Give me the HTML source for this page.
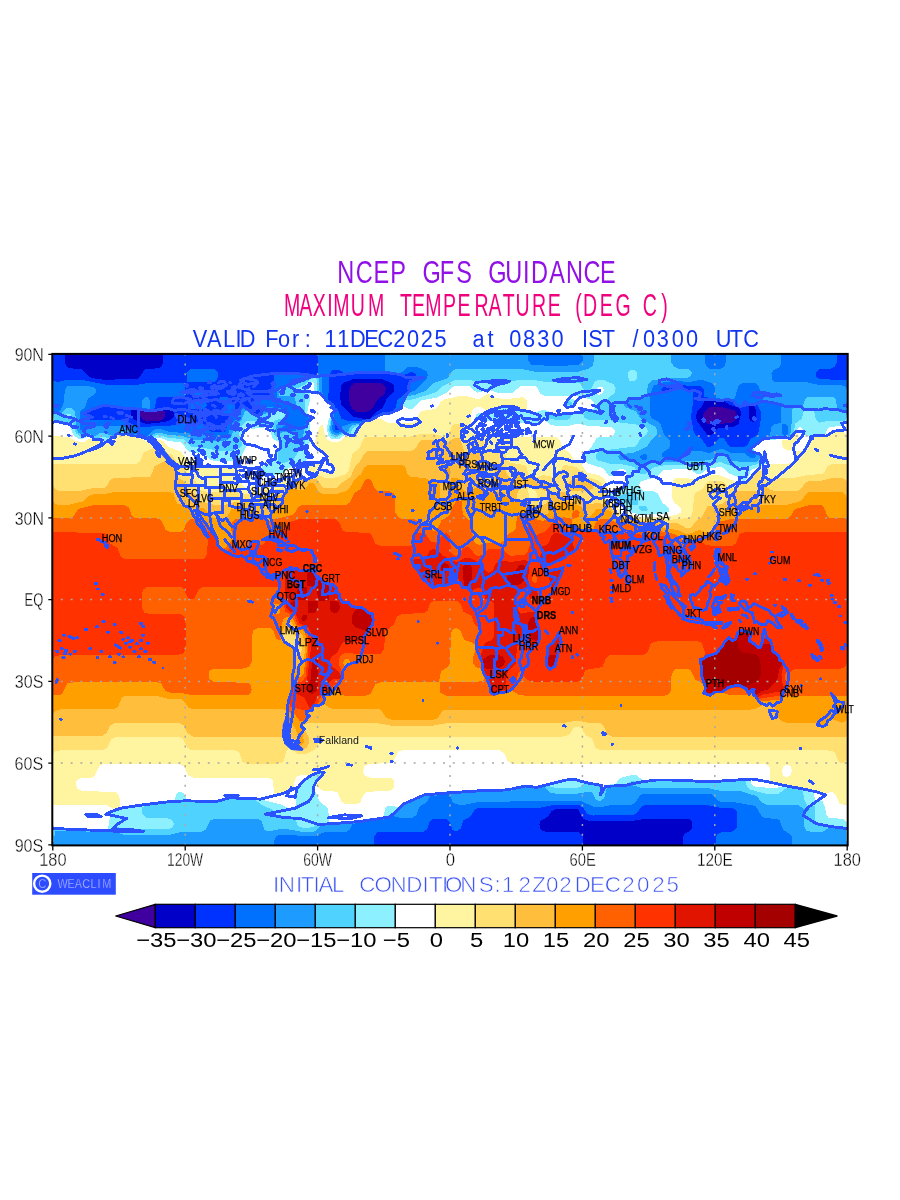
<!DOCTYPE html>
<html><head><meta charset="utf-8"><title>NCEP GFS Guidance - Maximum Temperature</title><style>html,body{margin:0;padding:0;background:#fff;}svg{display:block;}</style></head><body>
<svg width="900" height="1200" viewBox="0 0 900 1200">
<rect width="900" height="1200" fill="#fff"/>
<text transform="scale(0.7700,1)" x="438.13 462.10 485.00 506.71 527.07 548.70 571.21 592.49 612.85 634.09 656.19 679.20 689.76 713.33 735.14 757.75 779.29" y="283.30" font-size="30.52" fill="#9010e6" font-family="'Liberation Sans',sans-serif" style="white-space:pre">NCEP GFS GUIDANCE</text>
<text transform="scale(0.6400,1)" x="443.93 467.63 488.70 511.46 520.88 547.96 575.10 600.53 624.90 643.76 664.63 692.26 715.01 741.56 763.26 785.37 805.62 831.32 855.86 876.22 898.83 910.88 937.11 961.78 985.53 1004.41 1033.35" y="316.00" font-size="30.52" fill="#f0007e" font-family="'Liberation Sans',sans-serif" style="white-space:pre">MAXIMUM TEMPERATURE (DEG C)</text>
<text transform="scale(0.8800,1)" x="219.09 235.28 253.38 267.65 272.53 290.38 301.42 315.80 331.75 346.23 353.09 368.87 383.25 397.87 414.00 428.99 446.88 462.45 478.02 493.66 507.41 536.87 553.97 560.84 578.81 594.38 610.64 626.77 640.51 661.28 668.58 683.77 698.86 718.84 730.57 746.38 763.30 779.66 793.41 813.35 829.22 844.67" y="347.00" font-size="24.71" fill="#1034f0" font-family="'Liberation Sans',sans-serif" style="white-space:pre">VALID For: 11DEC2025 at 0830 IST /0300 UTC</text>
<clipPath id="mc"><rect x="52.8" y="354.4" width="794.4000000000001" height="490.5"/></clipPath>
<g clip-path="url(#mc)">
<rect x="50.8" y="352.4" width="798.4000000000001" height="494.5" fill="#4000a0"/>
<path fill="#0000c8" fill-rule="evenodd" shape-rendering="crispEdges" d="M53 351.5 850 351.5 850 848 50 848 50 351.5ZM355 383 351 385.5 349.5 390 349 400.5 350.5 406 353 409.5 356 411.5 365 412 369.5 411 373.5 407.5 377 400 384.5 394 385.5 390 385.5 387 383 384.5 379.5 383ZM709 407.5 705 411 703 415.5 704.5 421 708 424.5 731.5 423 736 420 737 414.5 734.5 410.5 720.5 407ZM156.5 410.5 147.5 411.5 144.5 410.5 140 411.5 140.5 417 143.5 420 147.5 421.5 160 420.5 163.5 418.5 165 415.5 165.5 410.5Z"/>
<path fill="#0032ff" fill-rule="evenodd" shape-rendering="crispEdges" d="M53 351.5 64.5 351.5 65 363.5 68 368 82.5 369.5 88 376 91.5 378 102.5 379.5 114.5 379.5 136.5 379 139.5 377.5 143.5 371 145.5 369.5 160 368 163 363.5 163.5 351.5 850 351.5 850 848 682.5 848 683.5 835.5 685 833.5 690.5 830.5 692.5 827 692 821.5 689 819 647.5 818.5 632 821 589 821 583.5 819 578 809.5 566 809 556 809 551.5 811 548 816.5 540.5 821 539.5 824.5 540 828.5 541.5 830.5 545 831.5 579 832.5 582.5 836.5 583 848 50 848 50 351.5ZM353.5 379 343 383 341 385.5 340 398 341.5 405 353 416.5 361.5 418.5 370 418.5 377 411.5 383 407.5 386.5 399.5 393.5 392 394.5 388.5 394 385.5 391.5 383 380.5 378.5ZM704.5 400.5 702 406 697 411.5 696 417 697 421 708 435.5 712 435 718.5 428 733.5 427 738.5 424 740.5 415.5 740.5 410.5 738.5 407.5 730 405 724.5 401.5 713.5 401 710.5 399.5ZM749 406 749 418.5 750.5 421 753.5 422 756.5 418.5 756 410.5 754 406ZM157.5 409 154.5 410.5 149 411 144.5 409.5 133.5 409.5 131 410.5 131 414.5 132 417 134.5 420 146.5 424 164 422 171 420 173.5 417 174 411.5 170 408.5 165.5 407.5Z"/>
<path fill="#0070ff" fill-rule="evenodd" shape-rendering="crispEdges" d="M318.5 351.5 836.5 351.5 836.5 362.5 834.5 366.5 830.5 368.5 818.5 369.5 816.5 371.5 815.5 375 817 377.5 820.5 379 850 380.5 850 848 715.5 848 715.5 838 717.5 834 721.5 832 732.5 831.5 736.5 828.5 737.5 823 737 812 735.5 809.5 731.5 808 719 807.5 707 805 646.5 805 642 806 636.5 813.5 633 815 593.5 815.5 587 814 583.5 808 580 805.5 566 804.5 553.5 805 541.5 807.5 477.5 808 474.5 810 470 817 463.5 820.5 460.5 828.5 457.5 831 455.5 831.5 452.5 830 449.5 821.5 446.5 819 433.5 818.5 430 821 427 829.5 423.5 831.5 377 832.5 374 836.5 373.5 848 50 848 50 380.5 58.5 382 68 379.5 79.5 379.5 107 385 136.5 385 150 382.5 185 382.5 185 397 158.5 396.5 156 399.5 155 407.5 153 409.5 147.5 410.5 134.5 407.5 121 408 109 405.5 103.5 405.5 88 411.5 85.5 413 86 414.5 89 415 91.5 417 88 420 89 420 124.5 420.5 135.5 425.5 144.5 427.5 157.5 425.5 171 425.5 182 423.5 202 423.5 206 425 209.5 430.5 211.5 432 221.5 432.5 224 432 226 430 229.5 417 228 415.5 222.5 414 216 413 222.5 410.5 225.5 407.5 225 403.5 219.5 400.5 218.5 398 224 396.5 228 397 227.5 402 234 403.5 236.5 413 238 412.5 241 406 242.5 405.5 246 407 251.5 412 258 414.5 262.5 409 256 408 252.5 403.5 259 400 260 396.5 269 395.5 272.5 393.5 274 388.5 274.5 374.5 279 373 293.5 372.5 313 375.5 317 375 318 372ZM333.5 369.5 331 371.5 329.5 375 329 390 327.5 398 329 400.5 334 403.5 335 407.5 337.5 409 341.5 418.5 346.5 420.5 360.5 421 364 419.5 369.5 419.5 381.5 412.5 388 412 392.5 410.5 395.5 407.5 397.5 399.5 403.5 395.5 407.5 391 409 384.5 414.5 380.5 416.5 376 415 373.5 411.5 372 402.5 375.5 392.5 374.5 378.5 371.5 364 371.5 360.5 372.5 353 372.5 348.5 374 345 373.5 338.5 369.5ZM672.5 384.5 663 387.5 661 390 662 391 666.5 392 673 390.5 679.5 388 691.5 391 693 392.5 693 402 691 417 693.5 430.5 695.5 435 701.5 439 707 446.5 709.5 447 712.5 446 718 439 721.5 437.5 724.5 439 728 445 731 447 744.5 447 747 445.5 751 438.5 758 435 761.5 415.5 760.5 410.5 757.5 405 750 403.5 740 405.5 736.5 405 733.5 402 728 400 713.5 399.5 704.5 396.5 704 390 700.5 386 688.5 386 678.5 384ZM335 424 335.5 429.5 338.5 430 339.5 429.5 338.5 426.5 336.5 424ZM190.5 369 214 369 217.5 372 218 377.5 216 381 213 382 186.5 382.5 186.5 373.5 188 371ZM193 392 204 392 206.5 392.5 207 394 205 395.5 195 396 192.5 394ZM186.5 399 189.5 399 190 400.5 192 401.5 196 400 202 400 206 402 207 405 205.5 407.5 203 409 190.5 409 188 407.5 188.5 403.5 186.5 401.5Z"/>
<path fill="#1e9bff" fill-rule="evenodd" shape-rendering="crispEdges" d="M385 351.5 528 351.5 528.5 361 531.5 365 556 366 579 365 582.5 361 583 351.5 704.5 351.5 704.5 361 706 366 709.5 368.5 715 368.5 721.5 368.5 724.5 366 726 361 726.5 351.5 781.5 351.5 780.5 365.5 779 367.5 773.5 370 771.5 373.5 771.5 379 774.5 381.5 807.5 382.5 819.5 385 841.5 385.5 845 386.5 847 389.5 850 389.5 850 848 792.5 848 791.5 835.5 783 829.5 779.5 820.5 776.5 819 765.5 818 762 817 755.5 806 733.5 802 720.5 801.5 717 800 711.5 794.5 698 794 643 794 640 795.5 635.5 802.5 632 804.5 611 805 600 807.5 593.5 806.5 581.5 801.5 576 800.5 478.5 802 466.5 804.5 457.5 804.5 452.5 802.5 450 794.5 446.5 794 443.5 795 430 796 426.5 802.5 419 807 416.5 815 412.5 818 400.5 818 393.5 816 384 819.5 358.5 822.5 352 824.5 349.5 829.5 346.5 831.5 325.5 832 314.5 836 279 835 276 836.5 274.5 839.5 274 848 50 848 50 411 58.5 412 60 410.5 63.5 403.5 65 390 67 386.5 71.5 385.5 82.5 385.5 93.5 387 95.5 388.5 96.5 391 94.5 394.5 88 398.5 85 407.5 80.5 411 79.5 413 79.5 426.5 80.5 429.5 82.5 430.5 87 428 93.5 426 122.5 426 128 427.5 131.5 433.5 138 434 146.5 437 153 430 158.5 428.5 170 432 202 434 213 436.5 224 436.5 228 434.5 231.5 424 237 418.5 242.5 408.5 245 408 251.5 413.5 258 416.5 266.5 407.5 269 407 281 408.5 286.5 412.5 288 414.5 287.5 417 283 422.5 285 424 285.5 425 281 428 292 431.5 296 430.5 296.5 429 304.5 426.5 307 421 310 418.5 304.5 416 300.5 410.5 297 407.5 277 400 277 390 283.5 386 291 384.5 297.5 379 307.5 376.5 320 375.5 322 377.5 322 391.5 323 395 328.5 401.5 333 404 333 407.5 337 410.5 333.5 414.5 333.5 420 332 428 333 432 337.5 433.5 342 430.5 342 426.5 353 423 360.5 422.5 364 420 370 420 381.5 413.5 388.5 413 399 408 406 395 409 392.5 416 390 426.5 379 428 375 426.5 371 416 366.5 408 367 401.5 372.5 398 373.5 393.5 373.5 385 371ZM696.5 380.5 689.5 382 676 381 663 382.5 654 385.5 652 388.5 651 394 649.5 396.5 650 415.5 652 418.5 658.5 421.5 660.5 424 664 435 669 439 670.5 443 669 448.5 662.5 452.5 662 456.5 666.5 459 676 459 680 458 684 452.5 687 451 698 450.5 709.5 453 721.5 448.5 731.5 453 744.5 453.5 751 458 755 458 756.5 455 752.5 453.5 751.5 447 763.5 437 770 436 771 428 773.5 424.5 781.5 422.5 781 406 779 404.5 769 402.5 763.5 400 762.5 398 763.5 397 768.5 394 760 390.5 758 385 754.5 382.5 744.5 382.5 740 384 738 387 735 398 732.5 399.5 728 398.5 724.5 399 716 398 715 387.5 712.5 383.5 702.5 380ZM781.5 424 781.5 433.5 785 436 787 436 788 432 787.5 426 785.5 424ZM641 455 640 458 642 460 645.5 460 647.5 458 647 455 645.5 454ZM144.5 397.5 147.5 397 149.5 399.5 149.5 409 142.5 407.5 141.5 406 142.5 400.5Z"/>
<path fill="#50d2ff" fill-rule="evenodd" shape-rendering="crispEdges" d="M594.5 351.5 671 351.5 671.5 362.5 673.5 366.5 677.5 368.5 688.5 369 692 372 691 376 688.5 377.5 673 377.5 652 380.5 648 384.5 646.5 394 642 398 630 398.5 626.5 403 624.5 403.5 623.5 405 626.5 407.5 636 411.5 641 419 655 426.5 657 429.5 656.5 435 652 439 646.5 447 633 453 621 454 618 456.5 620 459.5 633 461.5 642 466 645.5 466 655 461.5 675 462.5 688.5 460.5 699.5 461 709.5 460 712.5 459 720.5 454 723.5 455 731.5 461 751 462.5 756.5 461.5 759.5 459.5 760 456.5 758 454 753 452.5 752 448.5 753.5 446 763.5 438 775.5 437 779 436 786.5 437.5 789.5 436 791 432 792.5 409 796.5 406.5 803 406 805 399.5 808.5 396.5 833 397 835.5 399.5 837.5 408 844 411.5 847 415.5 850 415.5 850 842 847 842 846 841 846 830 845 829 833 827.5 828 828.5 823 831.5 818.5 832 809.5 831.5 806.5 830.5 804 826 804.5 809.5 798.5 805.5 765.5 804.5 762 802.5 756.5 796 741.5 791.5 721.5 791 709.5 788.5 642 788 630 784.5 625.5 786 607 787.5 604 798.5 600 801 596 800 592.5 793 590 791.5 578 793.5 555 793.5 550.5 792.5 545 787.5 542.5 787 539.5 788 530.5 788 526 787 509.5 791 494 791 491 792 466.5 792.5 462 793.5 446.5 793 443.5 794 430 794.5 423.5 796 406 804 398 811.5 389.5 817 385 818.5 368.5 820 365 821.5 358.5 821.5 355 823 342 823.5 338.5 825 323 824.5 320 826 316.5 830.5 312 832 300 831.5 286.5 829 278 829.5 268 831.5 264.5 829.5 261.5 821 258 818.5 216 818.5 210 820.5 206 829.5 202 831.5 181 832 168.5 835 129 835 123.5 834.5 113.5 831.5 88 832 82.5 830.5 55 830.5 54 841 53 842 50 842 50 415.5 53 415.5 55 413 60.5 414 67 408 71.5 407.5 75 411.5 77 429.5 78 432.5 81.5 434 90.5 434.5 94.5 436.5 99 433.5 103.5 433 113.5 436.5 115.5 433 120 431.5 128 433 131 434.5 138 435 147.5 438.5 154.5 433.5 158.5 432.5 168.5 435 183 436 193 439.5 221.5 441 227 440 231 437.5 234 428 241.5 420 245 411 248 411.5 251.5 415 259 418.5 258.5 421 260 422 264 420 259.5 417 263.5 414 268 413 270 409.5 280 409.5 285.5 413 286.5 415.5 285.5 418.5 276.5 425 275.5 429.5 277 433.5 279 434 283.5 431.5 294.5 433.5 295.5 435 295.5 439.5 300 439.5 303 437.5 304 429.5 306.5 426 308 421 311.5 418.5 311 417.5 304.5 414.5 301 408.5 296.5 405 294.5 397.5 291 396 279 396 278.5 391 279 390 284.5 387 289 386.5 292 387.5 296.5 384 304.5 381.5 310 377.5 315.5 377 318.5 377.5 319 379 319.5 391 328 402 333 405 332.5 407.5 336 410.5 332.5 414.5 330 429.5 332 434 336.5 435.5 344 432 348 432 349.5 428 353 425 359.5 424 364 420.5 370.5 420 381.5 414 389.5 413.5 399 409 407 396 414.5 395 425 391 433.5 383 448 378 452 371 454.5 369.5 518.5 368.5 534 371.5 579 371.5 589 368.5 592.5 366 593.5 362.5Z"/>
<path fill="#8cf0ff" fill-rule="evenodd" shape-rendering="crispEdges" d="M632 369.5 636 371 637.5 375 636.5 379.5 633 381.5 629.5 380.5 627.5 376 628.5 371.5ZM311 379 314.5 378 317 379 317 391 327.5 402 331.5 405 331.5 407.5 334.5 410.5 332.5 413 328.5 429.5 331 435.5 335.5 437.5 339.5 436 344 433 350.5 433.5 353 428 359.5 425 364 421 370.5 420.5 382.5 414.5 389.5 414 399 409.5 406 400 412.5 399.5 435.5 392.5 442.5 386 455.5 380 467.5 379.5 475.5 381.5 486.5 382 494 380 506.5 382.5 520.5 379.5 531.5 379.5 546 382 576 382.5 580 383.5 584.5 391 588 392.5 590.5 391 593 384.5 595.5 381 600 379.5 604.5 380.5 614 384.5 615.5 388.5 615 392.5 606.5 399.5 603.5 400.5 599.5 403.5 598.5 406 600.5 410.5 600 412.5 585.5 411 583.5 414.5 584.5 418 589 420 611 420.5 622 423 634.5 424 645.5 427 647.5 429.5 647.5 432 646 435 640 439 637 444.5 634.5 446.5 600 451 596 454 595.5 458 598.5 460.5 609 463.5 623 464.5 630 466 634.5 467.5 640 473.5 643 474.5 647.5 473 653.5 467.5 663 465.5 688.5 464.5 699.5 466.5 720.5 462 733.5 467 742.5 467 755.5 465 761 462 761.5 458 759 453.5 753.5 452 753.5 447 764.5 438.5 775.5 438 779 437 785.5 438 789.5 437.5 793 433.5 795.5 423.5 802 418.5 803.5 411.5 806 410.5 811 410 814 411 816 420 819.5 422.5 830.5 420.5 845 420.5 847 417.5 850 417.5 850 840.5 847 840.5 847 828.5 846 828 822 825 816.5 822.5 815 820.5 814.5 805.5 807.5 806 804.5 800 803 792 801 790 787 787.5 779 793.5 766.5 794 750 789.5 747 786.5 745.5 781.5 727 781 722.5 782 695 782 690 781 653 781 647.5 782 633 780.5 624.5 784.5 606.5 786 601 793.5 600.5 792 601 787.5 599 785.5 583.5 783.5 580 787 576 788 556 788 548 786 542.5 785.5 539.5 787 529.5 787 526 785.5 509.5 789.5 494 789.5 491 791 466.5 791 463 792.5 446.5 792 443.5 793.5 430 793.5 422.5 795.5 407 802.5 402.5 805 397 810.5 384 818 368.5 819.5 365 820.5 358.5 820.5 355 822 342 822.5 338.5 823.5 320 823.5 316 824.5 313 827 310 827.5 302 827.5 299 826.5 297 824.5 296 820.5 294.5 819 278 818 272 809.5 263.5 806 256 800.5 248 800 246 798.5 229.5 798.5 214 802.5 207.5 802.5 203 801.5 178.5 801 175.5 802.5 152 804 142 807 142.5 813.5 145.5 817.5 167.5 818.5 172 820 174 824.5 172.5 827 170 828.5 129 829 124.5 830.5 119 830 119 827 117 826.5 114.5 826.5 112.5 830 106 830.5 54 829 53 840.5 50 840.5 50 417.5 53 417.5 55 420.5 62.5 422.5 68 423 72.5 421.5 76 433.5 80.5 436.5 90.5 435.5 94.5 438.5 102.5 437 109 438 111.5 437 113.5 437.5 115.5 434 120 432.5 131 435.5 136.5 435.5 147.5 439.5 155.5 435.5 160 435 168.5 438 183 439 192 447 204 448 217 450.5 233.5 450.5 239.5 448 242.5 444.5 240 439 239 433.5 240.5 426.5 246 421.5 254.5 420.5 258 425 272.5 425.5 274.5 435 279 438.5 281 441.5 281 448.5 277.5 452.5 277.5 460.5 279 463 281 463.5 293.5 460 297.5 453 303.5 447 307 435 308 422.5 312.5 418.5 311 416.5 305.5 414.5 304.5 413 305 394 302 391 297 390 296.5 388.5 304.5 385ZM567.5 402 566.5 403.5 567 405.5 571.5 405 571.5 402 569 401ZM548 414.5 549.5 418.5 556 420 567.5 420 570 418.5 571 415.5 567 414 559 416ZM626.5 493.5 619 496 618 497.5 619.5 500 631 504.5 638 504.5 637.5 497.5 635.5 493.5 632 492ZM638.5 505.5 639 508.5 641 511 645.5 511.5 647.5 509.5 646.5 507 645.5 506ZM271.5 411 280 411 285 414.5 285 415.5 282.5 418.5 275.5 420 272.5 423.5 268 423.5 266.5 421 270 415.5ZM66 414 70.5 414 71.5 415.5 71 417 68 417.5 64.5 415.5Z"/>
<path fill="#ffffff" fill-rule="evenodd" shape-rendering="crispEdges" d="M312 382.5 313 382 313.5 383 314.5 391 320 395 330 405 331 409 333 410.5 328 421 327 429.5 328.5 436 331 438.5 334 439.5 339.5 438.5 345 434.5 352.5 435 357.5 428 364 422 370.5 421 382.5 415 389.5 415 399 411 402.5 406 409 409 412.5 408.5 421 400.5 437 397.5 448 392 452.5 387 456.5 385.5 469 386 474.5 391 477.5 392.5 489.5 390 497.5 392.5 505 393 513 392.5 521 385.5 533 385.5 537 387 540.5 393.5 544 395.5 576 396 591.5 399.5 593.5 402 593.5 409 590 410 584.5 409 581.5 412 572.5 413.5 567 412 558 414.5 545 410 540.5 410.5 535 413 521.5 411.5 517.5 410 515 407.5 507.5 407 501 407.5 484 413 478.5 413 476.5 414.5 475 418.5 475.5 419.5 480 418 484 420 502 423 529.5 423 533 425 537 425 544 420 550.5 424.5 555 426 568 426 578 423.5 588 426 612 427 615 430.5 614 435 611 436.5 600 437 596.5 438 591 448 584.5 453 584 458 585.5 461 589 464 602.5 468 610 476.5 613.5 476 617.5 470 620 469 623 469 625.5 470 627 475.5 626 485 623 488 615.5 489.5 611 492 609.5 494.5 609.5 497.5 628.5 511.5 643 515.5 655 513.5 665 513.5 669.5 511 668 507 662 502.5 657.5 493 654 491.5 643 490.5 640 488 639 485 640 482.5 642 481 657.5 476.5 663 470 688.5 468.5 696 473.5 698.5 474.5 701.5 473.5 708 468.5 720.5 467 724.5 469 729 473.5 737 476.5 742.5 481 744.5 481 747.5 478.5 751 470 766.5 463.5 766.5 455 765.5 452.5 764.5 451.5 763.5 452.5 762 456.5 759 452 754.5 451.5 753.5 448.5 763.5 440 775.5 439.5 781 437.5 785.5 438.5 790 438 798 428 800 427 802 428 805.5 434.5 807.5 436 814 434.5 823 434.5 825.5 433.5 827 429.5 829.5 427 840.5 426 847 420.5 850 420.5 850 823.5 847 823.5 845.5 820.5 843 819 828.5 817.5 826.5 815 825 807 822.5 801.5 819.5 799.5 815 800 814 793 801 788.5 786.5 786 774.5 788 755.5 787 752 785 750 779.5 747 778.5 743.5 779.5 726 779.5 721.5 781 695 781 689.5 779.5 652 779.5 647.5 781 642 779.5 636.5 775.5 632 775 620 778 616 783.5 606.5 785 603.5 788.5 599 783.5 571.5 779 539.5 786 529.5 786 526 784.5 509.5 788.5 494 788.5 489.5 790 466.5 790 463 791 446.5 791 443.5 792.5 430 792.5 422.5 794.5 407 801 398 807.5 392.5 805.5 388 805.5 385.5 808 383.5 816.5 375 818 368.5 818.5 365 819.5 358.5 819.5 355 821 333 822.5 329.5 821.5 328 808 320 802 313.5 787.5 315.5 781 321.5 774 320 773 300 782 296 790.5 296 805.5 293.5 808.5 288 808 282.5 805 259 799 249 798.5 246 797 228 797 214 801.5 189.5 799.5 186 798.5 183.5 793 179.5 791.5 176.5 793.5 174.5 800 173 800.5 141 804.5 138 806 123.5 807.5 111.5 812 108.5 813.5 110 817.5 108 828.5 88 829.5 83.5 828 57 828 53 826 50 826 50 421 53 421 54 422 69.5 425.5 73.5 435 78 438.5 82.5 438.5 89 436.5 92 437.5 93.5 439.5 101.5 439 104.5 441 111.5 438 114.5 438 116 435 119 433.5 136.5 436 147.5 440 160 437.5 168.5 441 181 442.5 189.5 452 204 454 210.5 460 216 461 235 461 239.5 459.5 246.5 445.5 242 437.5 243.5 430.5 246 427 248 426.5 250.5 428.5 254.5 428.5 268 427 270 428 272 437.5 274.5 440 279 442 280 447 276 451 275.5 459.5 262.5 466.5 261.5 469 264.5 473.5 270 473.5 272.5 475 279 474.5 283 473 288 468 297.5 465.5 303.5 461.5 306 460.5 307 459.5 310.5 436 309.5 422.5 313 418.5 312 416 307 413 309.5 402 309.5 392.5 308 390ZM568 399.5 565 403.5 567 407.5 572.5 407 577 400.5 572.5 399ZM111.5 441.5 112.5 441.5ZM599 386.5 602.5 387 604 390 602.5 393.5 599 395 597.5 394 597 391 597 388.5ZM524 417.5 526 417.5 528 418.5 525 420.5 523 418.5ZM763.5 458 763.5 459.5Z"/>
<path fill="#fff5a0" fill-rule="evenodd" shape-rendering="crispEdges" d="M488.5 393.5 495 397.5 499.5 398.5 512 398.5 524 397 527 400.5 527.5 409 523 410 518.5 409 516 406.5 507.5 405 499.5 406.5 488.5 410 486.5 410 480 407 475.5 407.5 472 410.5 470.5 417 470.5 424 472.5 426.5 474.5 432.5 477.5 433.5 481 433 485.5 427.5 489.5 426.5 496.5 429 497.5 433.5 503 436.5 557 437.5 559.5 440 563 448.5 569 452 574 459.5 581.5 464 587 472.5 600 475.5 604.5 479 607 485 605.5 497.5 608 501.5 615.5 505 622 513 642 517.5 655 516.5 667.5 517 678.5 514 680.5 512.5 680.5 507.5 674 502.5 671.5 497.5 671.5 484 673 480.5 675 478.5 686 478 698 480 709.5 475.5 719 475 738 482.5 744.5 482.5 747 481 754.5 471.5 758 469.5 764.5 468.5 770 464 787.5 464 793 462 795.5 458 794.5 451 802 451 804 450 809 443 811 438 813 436.5 826 436 833 432 840.5 430.5 847 434.5 850 434.5 850 804.5 843 804.5 839.5 803.5 835.5 794.5 832.5 792 822 793.5 801 787.5 786.5 784.5 783 785 772 782 770.5 781 769.5 767 768 765.5 764.5 764 514 764 508 762 504 753 499.5 750.5 410.5 750 401.5 750.5 398 751.5 394 760.5 391 763 368.5 764 364.5 766 363 771.5 365 776 369.5 777.5 391 778 394 781 394.5 786.5 393 789 390.5 790.5 366 792 363.5 794.5 360.5 802 356 804.5 344 804 341.5 801.5 337.5 792.5 334 791.5 323 790.5 317.5 787 316 785 316.5 782 323 774 323 772.5 321 771.5 309 775.5 302 775 297.5 776 295 779.5 293.5 787.5 292.5 789 283.5 793.5 277 794.5 274 793 273 781 271.5 779 268 777.5 193 777.5 188 775.5 184 766.5 179.5 764 111.5 764 103.5 764 100 765.5 94.5 776 91.5 777.5 79.5 778.5 76.5 781 76 785 77.5 789 81.5 791 115.5 792 118.5 794.5 119.5 798.5 119.5 805.5 117 808 112.5 808.5 107 805.5 102.5 805 50 804.5 50 435.5 68 437 76 441 80.5 442 85 441.5 89 438.5 91.5 438.5 93.5 440.5 100 440.5 101.5 441.5 100.5 444.5 101.5 445 108 441.5 109 441.5 111.5 444 113.5 443.5 114.5 441.5 114 440 117 435.5 119 434.5 136.5 437 146.5 441 160 439.5 163.5 441.5 168.5 447 181 451.5 187.5 460.5 190.5 463.5 203 464.5 211.5 466.5 233.5 467 238 468 240.5 471.5 242 485 245 487.5 248 488 254.5 485 258 485 261.5 480.5 279 480.5 290 475.5 299 477.5 303.5 476.5 307 478.5 311.5 475.5 307 473 306.5 467 303 466 302 465 304.5 463.5 318.5 462.5 322 461.5 322.5 463.5 320 469 325.5 470 328.5 472 331 471.5 333.5 467.5 327.5 463.5 326 455 317 448.5 314 444.5 319 428 321 425 323 425.5 325 435 327.5 439.5 332 442 337.5 442 342 440 345.5 436 354 436 359 428 364 422.5 370.5 422 376.5 418.5 380.5 418.5 385 421.5 389.5 423 412.5 423 416 420.5 419 413.5 421.5 411 435.5 409 438 407 441 401.5 444 399.5 459 396 466.5 396 475.5 398.5 480 398.5ZM786.5 764.5 783 766.5 782 771.5 783 775.5 786.5 777 791 775 792 770 790.5 766ZM796.5 433 799 435 799.5 439 794 445.5 793.5 450 788.5 450.5 784.5 449 782 445.5 782 439.5 790 439.5Z"/>
<path fill="#ffe070" fill-rule="evenodd" shape-rendering="crispEdges" d="M455.5 423.5 460 424 463.5 426.5 464 428 461.5 432 462 437.5 464 440 467.5 440.5 473 437.5 476.5 439.5 484 440.5 485.5 445.5 484 447.5 478.5 449 478.5 450 480 451 482 452 488.5 450.5 493 451.5 497.5 450 502 451 504 453 507.5 460.5 509.5 462.5 524 465 526.5 467.5 528.5 475 535 472.5 535 477.5 544 475 553.5 477 561 470 563 466 565.5 465 577.5 467.5 584.5 476.5 597 480 601 482.5 602.5 485 602 496 603 500 606.5 503.5 614.5 507 619.5 515 642 519 655 518.5 667.5 520 688.5 518 690.5 516.5 692.5 512.5 694.5 494.5 696 492.5 702.5 489.5 706 483 709.5 481 721.5 481 724 482.5 728 487.5 733.5 488.5 738 485 744.5 484 748 482 755 473 759 470.5 762 471.5 764.5 477.5 796.5 477.5 807.5 475 822 474 825 471.5 827.5 466 830.5 464.5 850 464 850 759 847 759 844 763 840.5 763 838 760.5 834.5 752 828.5 750.5 600 750 595.5 747.5 592 738.5 585.5 735 581.5 728 578 726.5 574 727.5 569 735 563.5 736.5 324 737 320 739 315.5 749 306.5 753.5 302 754 297.5 753.5 289 747.5 286.5 751 283.5 761.5 281 763 278 763.5 246 763.5 242.5 761.5 239 752 235 750.5 190.5 750 187.5 747.5 182.5 738.5 176.5 736.5 115.5 737 111.5 739 107 747.5 103.5 750 59.5 750.5 55 751.5 53 755 50 755 50 464 136.5 463.5 140 461.5 143.5 452.5 153 448.5 157.5 443 160 444.5 164 452 172.5 455 176.5 462 183 466.5 188.5 475.5 195 480 198 486.5 200.5 490 206 491.5 233.5 491.5 247 494 251.5 493 258 487.5 268 491 282 488 289 481.5 302 477.5 306.5 480 316.5 474.5 324 477.5 329.5 477.5 335.5 477.5 345.5 474.5 348.5 471 352.5 454 359.5 448 363.5 439 366 437.5 410.5 436.5 421.5 434 431 434 438 435 445.5 439 448.5 435 452 425.5ZM528 488 529 497.5 532 500 536 499.5 537.5 496 535.5 490.5 530.5 487.5Z"/>
<path fill="#ffbe3c" fill-rule="evenodd" shape-rendering="crispEdges" d="M456.5 437.5 460 438.5 464.5 452.5 469 452.5 470 448 471 448 473 452 480 453.5 483 455 484 474.5 486.5 480 488.5 481.5 491 481.5 492 480 496 467.5 499.5 465 503 466.5 507.5 475 510.5 477.5 514 477.5 518.5 473 522.5 474.5 522.5 477 524 478.5 528.5 478 531.5 476 537 480.5 545 481 547.5 482.5 549.5 486.5 549.5 491 544 490.5 537 487.5 527 484.5 523 486.5 519 489.5 517 494.5 517 499 521.5 500 526 499 529.5 500 530.5 505 542.5 505 546 503.5 548.5 500 550.5 491.5 567 491.5 569.5 497.5 572.5 500 589 504.5 599 502.5 612 508 616.5 515.5 620 518 643 521.5 655 521 665 523 677.5 523 687 528.5 691 527.5 696 521 702.5 516.5 707 506.5 722.5 504 728.5 499 728 494.5 732.5 494 737 491.5 756.5 491 758 493.5 756.5 497.5 759 499.5 761.5 496 763.5 488 764.5 487 766.5 487 771 490 775.5 491 795.5 491 800 490 805.5 482.5 808.5 481 822 480.5 832 478 839.5 477.5 845 479 847 482 850 482 850 736.5 612 736.5 607 734.5 604 726.5 601 723.5 589 723 578 720.5 562.5 723 448 723 431 726 390.5 725.5 376 723 307.5 723 303.5 725 303 726.5 308.5 737.5 308.5 744 306.5 748 301 750 294.5 747 294 745.5 296 741.5 295.5 740 290 737 193 736.5 187.5 733 183.5 725 178.5 723 114.5 723 110.5 725 106.5 733 102.5 736 50 736.5 50 485.5 53 485.5 56 490 60.5 491 79.5 491 90.5 488.5 103.5 488 106.5 486.5 110 480 113.5 478 149 477 151.5 474.5 154.5 466 167.5 459.5 169.5 460.5 168.5 462 169 463.5 175 467.5 178.5 478 184 481 187 489.5 194 493.5 199.5 501.5 215 505 224 505 232.5 502.5 239.5 502 249 502.5 259 505 269 504.5 272.5 503 276 496 283.5 493.5 286.5 488.5 293.5 486.5 295.5 481.5 302 479 306.5 481 311 479 315.5 478.5 318.5 481 322 487 324 488 333 488.5 337.5 487.5 342 482.5 350.5 477 355 466.5 360.5 460.5 364 454 367.5 451 411.5 450.5 415.5 448.5 419 442 422 440 440 439.5 446.5 443 453.5 438.5ZM288.5 629.5 283.5 634 283 635 284 639 286.5 642.5 294 647.5 296.5 654.5 299 654.5 301 652.5 302 650 301.5 644.5 297 639 292.5 631 290 629.5ZM576 478.5 590 482.5 592.5 485 592.5 488.5 590 490.5 587 491 568 490.5 567 488 568 483.5 571.5 480Z"/>
<path fill="#ffa000" fill-rule="evenodd" shape-rendering="crispEdges" d="M368.5 464.5 401.5 464.5 405 466.5 407.5 474.5 410.5 477 424.5 478 430 480.5 437 481 439.5 484 439.5 497.5 441 502 443.5 499.5 445.5 499 449.5 496 450.5 488 450.5 478.5 456.5 478 461.5 480 461 480.5 459 480 457.5 482.5 459 487.5 469 493 471 492.5 473 489.5 476.5 487 481 488.5 484 492 485.5 495.5 486.5 494.5 487.5 492 488.5 491.5 502 491.5 505 495 508.5 495.5 512 499.5 516 501 523 502.5 526 500.5 528.5 501 528.5 509 536 510 542.5 515 547.5 514 553.5 506.5 566 501 571.5 504 579 505.5 582 507 588 517 591 516 596.5 509 601 508.5 610.5 511 615.5 518 619 520 634.5 521.5 643 524 656.5 524.5 664 528 677.5 530 687 534.5 699.5 530 709.5 533 718 522 719 516 724.5 514 728 507.5 736 503 739 504.5 736.5 509.5 737 511.5 739 512.5 741.5 507.5 745.5 505 785.5 505 798.5 502 802 500 806.5 493.5 809.5 491.5 843 492 847 497.5 850 497.5 850 718 847 718 845 721.5 841.5 722.5 832 719 828.5 721 826 725 823 726.5 819.5 725.5 817.5 723 785.5 722.5 781 721 778.5 718 774.5 706 769 704 762 705.5 756.5 708.5 751 709.5 448 709.5 442.5 710.5 438 718 434.5 719.5 392.5 720 386.5 718 382.5 712 379.5 709.5 334 709 329.5 708 324 703.5 320 706 314.5 706.5 312 712 307 712.5 308.5 715.5 307.5 718 305.5 721.5 302 723.5 300.5 726.5 303 729 302.5 733 304 742.5 302 745 300 745.5 297.5 744 298 736 295.5 729 293 725 287.5 722.5 287.5 714 285.5 709.5 284.5 709.5 193 709 188.5 708 184 701 181 699 167.5 698.5 156.5 696 129 695.5 124.5 696 121.5 698 118 707 114.5 709 59.5 709.5 55 711 53 714 50 714 50 500.5 53 500.5 54.5 503 57 504.5 68 505 82.5 501.5 88 496 92.5 494.5 104.5 494 117 491.5 168.5 491.5 173.5 493.5 175.5 500 177.5 503.5 188.5 506.5 193 510 198.5 508 204 508.5 206 510 210.5 516.5 214 518 225 518 228 515 231.5 509.5 238 508 246 508 249 509 252.5 516 257 515.5 262.5 516.5 269 515.5 273 511 280.5 505.5 282.5 503 283.5 496 288 489.5 290 488.5 302.5 490.5 305.5 489 309 483 312 482.5 314.5 484 318.5 492 322 493.5 336.5 494 346.5 491 349.5 488 354 480.5 360.5 474.5 364 467.5ZM478.5 496 479.5 497.5 482 498 484 496ZM521 504.5 523 505.5 525.5 504.5 523 503ZM288 621.5 281.5 632.5 281 635 285.5 643.5 294 650 294.5 666.5 295.5 668.5 299 668 302 664 304.5 654.5 305 647.5 304.5 640.5 302 634 295.5 629 291 621.5ZM448 466 449 466 450 469 450 477.5 448 477 445.5 471 440.5 469 441 467.5Z"/>
<path fill="#ff6000" fill-rule="evenodd" shape-rendering="crispEdges" d="M366 479 368.5 478.5 371 480 374.5 488 377 490.5 389.5 491.5 393.5 493.5 395 497.5 395.5 512.5 398 517 401.5 518.5 414.5 519 422.5 523.5 428 522.5 430 528.5 433.5 531 437.5 529 441.5 520.5 449 516 452.5 507 456 501.5 457.5 500.5 460 500.5 461.5 501.5 463 515 471.5 522 473 539.5 475.5 543.5 478.5 545 487.5 543 501 542.5 504 541 508 534 514 531 515.5 529 517 516.5 519.5 515 527 516.5 527 518 524 523.5 526 524.5 527 523.5 527.5 518 528.5 517.5 542.5 521 556 516 571.5 518.5 573 511 577 510 579.5 512.5 579 516.5 572 519.5 572.5 524.5 576 528 587 530 592.5 529.5 594 529 595 523.5 598 520 601 519 608 519 619 523.5 634.5 525 643 529 655 530 672 533.5 679.5 536.5 684 543 688.5 540 693.5 539.5 698 535.5 705 536.5 709.5 535.5 720.5 521.5 733.5 518.5 786.5 518.5 790.5 516.5 794 510 797 508.5 809.5 505 822 505.5 824.5 508.5 827.5 516 829.5 518 850 518.5 850 695.5 785.5 695.5 780 699.5 761 701.5 759 701 755.5 698.5 753 695 752.5 692.5 749 696 747 695 731.5 695.5 724.5 693.5 717 693 710.5 696.5 706 695.5 704 693.5 704 686 701.5 683 695 679.5 691 670.5 688.5 669 683 668.5 676 669 673 671 671.5 676 670.5 691 668.5 694.5 665 695.5 524 695.5 518.5 694.5 512 691 494 696 445.5 695.5 442.5 694 440.5 692.5 439.5 687 440 682 477.5 682 483 680.5 484.5 678.5 481 669 475.5 667 473.5 663.5 473 658 475.5 650 474.5 644.5 472 642.5 464.5 640 460 630 455.5 628 452.5 629.5 451 633.5 450 663.5 448 667 441 671 439 682 379.5 682.5 375 684.5 371 693.5 366 695.5 344 695.5 339.5 693.5 335.5 690 334 690 329.5 694.5 324 695.5 323 700.5 319.5 704.5 313.5 706 312 710.5 306.5 711 305.5 712.5 306.5 717 305.5 719 303.5 721 300 721.5 294.5 714 289 712 287 706 291 691 291.5 683 293.5 679 301 677 303.5 674 307 650 306.5 639 304.5 631.5 297 627 292 617.5 288 616.5 283.5 618.5 280 629.5 279.5 632.5 281 640.5 276 639 273.5 631 271 628.5 258 628 253.5 630 252 636.5 252 661 249 667 243.5 668.5 214 668.5 210.5 670 209 672 209 678.5 213 681.5 248 683 250.5 685.5 251.5 689.5 250.5 693 248 695 194 695.5 182 693 170 692.5 165.5 691 161 683.5 156.5 682 76 682 67 683.5 63 692.5 60.5 695 50 695.5 50 518.5 70.5 518 74 516 78 509 91.5 505.5 124.5 505 129 507.5 131.5 515 134.5 518 156.5 518.5 161 520 165.5 529.5 170 532 178.5 532 183 531 187 522 189.5 519.5 203 519 206 522 216.5 537 219.5 546 221.5 548 225 548.5 233 538.5 230.5 526 232 522 235 519.5 243.5 518.5 251.5 520.5 257 517 261.5 519 264.5 519 270 521.5 272.5 519 280 518 292 515 295 512.5 298 507 301 505.5 346.5 504.5 349.5 502.5 354 493.5 360.5 489 364 481.5ZM716 531.5 715 537 716 539.5 717 539.5 719 533 718 530.5ZM273.5 603.5 273 613.5 279 613.5 280.5 610.5 280 605.5 278 603.5ZM344.5 659.5 343 662.5 344 666.5 350 662.5 348.5 659 346.5 658.5Z"/>
<path fill="#ff3200" fill-rule="evenodd" shape-rendering="crispEdges" d="M300 519 336 519.5 339 522 343 531 347.5 532 369.5 533 372 535.5 375.5 544 380.5 545.5 411.5 545.5 414.5 534.5 419 532.5 425.5 534 431 542 435.5 542.5 438 541 442.5 534 446.5 533 449 535 450 537.5 451 552 453 554.5 455.5 556 459 554.5 463 548.5 466.5 546.5 470 548 474.5 554 477.5 556 482 555 487.5 549.5 492 548.5 502 549 507.5 554.5 510.5 556 525 554.5 527.5 552 530.5 542.5 529.5 537 526 529 526.5 527.5 529.5 526.5 534 533.5 537 535 546 531 551.5 524 555 522 558 522.5 563.5 528 574.5 533.5 577 530.5 579 530 583.5 531.5 598 531.5 602.5 535 610 532.5 630 532.5 642 535 666.5 536.5 669.5 538.5 674 544.5 683 549.5 685 545 689.5 541 692.5 543 696 541 699.5 540.5 705 544.5 709.5 545.5 732.5 545.5 736 543.5 739.5 534 743.5 532.5 850 532 850 663.5 847 663.5 845 667 840.5 668.5 798.5 668.5 794 669.5 790 672 786.5 669.5 785 676 786.5 687 784.5 692 780 695.5 758 699 754.5 696 752.5 691 749 694 744.5 689 739 687.5 732.5 687.5 723.5 692 716 692 710.5 695.5 706 694.5 704.5 692.5 705 687 701.5 678.5 700 670.5 699 659.5 700.5 657.5 703.5 657 705.5 654 702 643 696 641 656.5 641.5 651 643 647.5 652.5 644 654.5 609 655.5 606 658 602.5 667 585.5 670 581.5 679.5 578 681.5 531.5 681.5 527 680 524 677 521.5 669.5 518 673 516 684 513 688 509 691 494 694.5 490 692.5 489.5 688 485.5 676 482.5 670.5 482 665 476.5 646 477 638 480 631 478.5 628.5 474 624 471.5 616 463.5 612 460.5 603.5 457.5 601 435.5 600.5 430.5 602.5 427.5 610.5 424.5 613 401.5 614 397.5 616 393.5 625 385.5 631 384 649.5 380.5 654 358.5 654.5 347.5 652.5 342.5 654 340 657 338.5 661 339 665 342.5 673 342.5 677.5 341 681 333 686.5 329.5 692.5 323 694.5 319.5 699 318 703 313 705 311 710 306.5 709.5 304.5 710.5 290 706.5 289 702 292 692.5 292 684 294.5 682 302 681.5 305.5 677 308.5 648.5 308 633.5 305.5 629 297.5 624.5 294.5 616 285.5 612 282.5 600.5 280 598.5 275.5 597 279 589 278 587 275.5 586.5 203 587 199 589 195 597.5 192 599.5 188 598.5 184 589.5 181 587 146.5 587 143.5 589.5 142 594 142 608 144.5 612.5 150 614 179.5 614 183 615.5 184.5 617.5 185.5 623 185.5 646 185 650 183 653.5 176.5 655 60.5 655 55 656.5 53 659.5 50 659.5 50 532 104.5 533 107.5 535.5 110 543.5 117.5 548 121 557 125.5 559 200.5 559.5 205 558 207 554.5 208.5 531 213 534 216 539.5 218 546.5 222.5 550.5 227 551.5 235 543.5 239.5 548.5 242.5 550 248.5 548 251.5 542 256 540.5 258 541.5 260 545 262.5 544.5 265 542.5 264 539.5 267.5 537 270 533 281 531.5 283.5 529.5 288 522.5ZM692.5 545 690 548 691.5 550 694.5 546.5 694 544.5ZM533.5 575 532 578 532 580.5 533 582 535 583 537 582 537.5 579 536 576Z"/>
<path fill="#e11400" fill-rule="evenodd" shape-rendering="crispEdges" d="M553.5 533.5 557 533 569 536.5 571.5 539.5 574.5 549 572.5 552 567 554.5 566 556.5 561.5 559 545.5 565.5 546 568 549.5 572 556 569.5 562.5 568.5 561.5 574 557.5 583.5 555 587.5 552.5 588.5 550.5 584.5 548.5 575 542.5 571.5 540 568.5 539 557.5 542 552 542.5 546.5 548 544 551.5 536ZM433.5 549 438 550.5 442.5 555.5 454.5 561.5 457.5 561.5 465.5 557.5 470 558 482 564 485.5 570.5 488.5 572.5 492.5 571 496 563 499.5 560 510.5 562 524 560 527 561 529 563 529.5 567 528 578 527.5 589 520.5 590.5 518 593 517 597 517 608 519 612 521.5 613.5 531.5 611.5 536 612 537 621.5 540.5 632.5 540 639 537 644.5 529.5 651 528.5 651 526.5 646 524 642.5 520.5 642 518.5 644 517 647.5 515.5 663.5 508.5 670.5 506.5 674.5 505 689.5 495 693 492 692.5 487 677.5 483 669.5 481 658 481 654.5 485 643 492 640 494 636 494.5 610.5 493.5 603.5 492 601.5 485.5 598.5 481 588 477.5 587.5 472 590.5 467.5 588 463 588 456.5 575 453.5 575.5 450.5 582 446.5 585 439 585.5 433.5 587.5 428.5 584.5 422.5 578.5 417 569 413.5 566 413 561.5 413.5 559.5 422.5 559 425.5 558 430 550.5ZM288 569.5 291 568.5 293.5 570 295.5 568.5 300 570.5 312 570 323 581.5 332 584 334.5 586 336.5 589 339.5 598.5 342 601 347.5 602 352 606.5 361.5 606.5 367.5 611.5 371.5 613.5 373.5 617.5 373.5 623 372.5 625.5 364.5 636.5 363 641 344 642 342 643.5 337.5 652 331 657.5 329.5 661 330.5 665 340 673 341 677.5 339.5 679 333 679.5 329.5 681.5 326 689.5 317.5 696.5 314.5 703 311.5 706 311 708.5 309 707.5 304.5 698 296 693.5 293.5 691 293.5 687 303.5 685 307 680 311 648.5 311.5 640.5 310.5 632.5 309 628.5 306.5 626 300 624 295.5 613.5 289 611 286.5 608 285 591.5 285 574 286 571ZM528.5 590 534 590 537 591.5 538 595.5 537 598.5 534 600 530 598.5 528 594ZM739 630.5 742.5 629.5 751 632 752 633.5 750.5 640.5 759 646.5 764.5 638 770 640.5 773.5 650 779 655.5 784 663.5 781.5 674.5 782 681.5 784 688 782.5 691 763.5 694.5 758 697 754.5 695 753.5 690.5 751 690.5 749 693 745 688 740 686.5 731.5 687 723.5 691 715 691.5 710.5 694.5 706 693.5 705 692.5 705.5 687 702 678.5 700 659.5 709.5 654 716 652 728 637 729 636.5 732.5 638.5 734.5 638ZM558 634 559.5 635 561 642 559 647.5 557 661 555 667 551.5 669 549.5 669 547 666.5 546 663.5 548 647.5 555.5 639Z"/>
<path fill="#c00000" fill-rule="evenodd" shape-rendering="crispEdges" d="M442.5 563.5 445.5 563 449 565.5 448.5 569.5 445.5 572 443.5 572 441 569.5 440.5 565.5ZM464.5 564 469 563.5 472 567.5 472.5 579 470 586 464 586 462.5 568.5ZM519.5 565 523 564.5 525 567 524 581 520.5 584 513 586 509.5 586 506.5 582 507 576.5 508.5 574.5 515 571ZM307.5 572.5 312 572 316.5 577.5 318.5 578.5 322 582.5 329 586 328.5 600.5 318.5 600.5 316.5 589 314.5 587 307 586ZM301 587 307 587.5 306.5 600.5 296.5 599.5 297 591.5 298 589ZM293.5 601 296 601 296 603.5 295 606.5 292 607.5 290.5 606.5 290 603.5ZM307.5 600.5 318 601 317.5 609 314.5 613 307.5 613.5ZM329.5 600.5 336.5 601 339 602.5 340 608 337.5 612.5 334 613.5 331 611.5 329.5 606.5ZM356 609 361.5 608.5 371.5 615.5 372.5 618.5 372.5 623 370.5 626.5 366 631 355 627 352.5 624 352 616 354.5 610.5ZM303.5 614.5 307 614.5 306.5 618.5 304.5 621 302 620.5 301.5 618.5 302 616ZM533 617 535.5 618.5 539 633.5 538.5 639 536 641 531 639 528 633.5 528.5 621.5 530 618.5ZM740 631.5 742.5 631 750 633 749 639 750 642 759 648.5 760 648.5 763.5 644 770 644.5 772.5 651.5 777.5 656 782 663.5 779.5 669 777 680 768 689.5 761 691.5 756.5 694.5 755.5 694.5 755 691 753.5 689.5 751 689.5 749 691.5 745.5 688 740 686 731.5 686 722.5 690.5 715 690.5 710.5 693.5 706 692.5 706.5 687 702.5 677.5 701 659.5 709.5 655 717 653 724.5 642 728 638.5 729 637.5 731.5 639.5 734.5 639.5ZM488.5 655.5 498.5 655 503 656.5 505 661 504 665 498.5 668.5 485.5 668.5 484 667.5 483 659.5ZM549.5 655 556 655.5 554.5 665 550.5 667.5 547 663.5 547.5 658ZM314.5 657 316.5 657.5 318 661 318 685.5 316.5 691 312 694 309 692.5 308 688 311 678.5 312 660Z"/>
<path fill="#a50000" fill-rule="evenodd" shape-rendering="crispEdges" d="M729 639 732.5 641 737 641 739 650 741.5 652.5 754.5 654 759 657 760.5 662.5 760.5 674.5 759 680 756.5 682 745.5 686 740 685 727.5 685.5 721.5 683.5 707 683.5 705 682 702 669 701.5 661 710.5 655.5 717 654 724.5 643Z"/>
<path fill="none" stroke="#a8a8a8" stroke-width="1.5" stroke-dasharray="2 7.8" stroke-dashoffset="1.8" d="M52.8 436.1H847.2M52.8 517.9H847.2M52.8 599.6H847.2M52.8 681.4H847.2M52.8 763.1H847.2"/>
<path fill="none" stroke="#a8a8a8" stroke-width="1.5" stroke-dasharray="2 7.8" stroke-dashoffset="0.8" d="M185.2 354.4V844.9M317.6 354.4V844.9M450.0 354.4V844.9M582.4 354.4V844.9M714.8 354.4V844.9"/>
<path fill="#2b52ff" d="M287.1 712.7 282.7 725.0 282.7 735.9 284.5 744.1 291.1 750.1 302.2 750.9 303.7 749.0 298.8 744.6 293.3 742.7 289.4 735.9 288.9 727.7 289.6 718.2 287.1 712.7ZM147.7 437.5 154.3 438.1 160.9 445.7 166.4 452.5 172.0 459.3 178.1 465.3 179.7 468.8 175.3 468.3 168.0 462.0 162.0 455.2 156.5 449.8 149.9 443.0 145.5 438.9ZM716.1 549.2 719.7 549.2 719.2 553.3 718.3 556.6 717.9 561.0 720.3 560.7 723.6 564.2 722.1 564.2 716.1 560.4 714.8 556.0 716.1 549.2ZM719.2 580.6 721.4 576.5 724.7 576.5 726.9 573.2 729.1 580.6 728.0 582.8 726.3 584.4 723.6 581.9 719.2 580.6Z"/><path fill="none" stroke="#2b52ff" stroke-width="2.9" stroke-linejoin="round" stroke-linecap="round" shape-rendering="crispEdges" d="M79.3 420.9 83.7 419.0 89.2 418.2 92.5 417.3 88.1 415.2 82.6 413.5 90.3 410.3 96.9 407.5 104.7 405.4 114.6 406.7 123.4 408.1 134.4 408.6 143.3 410.0 152.1 410.8 160.9 409.4 167.5 408.1 174.2 410.3 183.0 409.4 196.2 411.9 207.3 414.3 216.1 413.3 227.1 414.9 233.7 414.3 238.2 413.0 241.5 404.8 247.0 408.9 251.4 413.0 258.0 416.3 263.5 409.7 270.2 411.1 269.1 417.1 262.4 419.3 259.8 418.4 255.8 424.7 249.9 426.6 243.7 432.1 241.5 438.9 245.9 444.1 254.7 445.7 262.4 449.0 268.4 449.5 269.1 455.2 272.4 459.9 275.7 459.3 276.1 451.1 280.1 448.4 281.0 443.0 279.0 437.5 277.9 429.9 286.7 429.9 292.2 433.2 296.6 433.4 295.5 438.9 299.9 440.2 305.5 437.5 307.7 435.3 311.0 440.2 314.3 445.7 317.6 449.0 323.1 452.5 327.1 456.6 324.2 459.3 319.8 462.6 313.2 462.9 303.3 462.9 297.7 467.5 294.4 471.0 298.8 467.8 302.2 466.1 307.7 466.4 306.6 469.4 307.0 472.9 309.9 474.8 315.4 475.4 317.2 473.8 315.4 476.2 309.9 478.1 304.8 480.8 304.4 477.6 302.2 477.8 297.7 479.8 295.1 480.8 293.8 483.6 295.5 485.7 294.0 486.6 291.1 487.4 286.7 489.0 286.7 491.5 284.7 493.6 283.4 496.1 282.3 498.8 283.0 502.6 281.2 504.8 277.9 507.3 275.2 509.2 271.3 513.0 270.4 517.1 272.1 522.3 273.5 526.9 272.6 531.0 270.8 531.0 269.5 528.5 267.5 523.9 267.3 520.6 264.2 517.6 261.6 518.7 259.1 516.8 255.8 516.3 252.5 517.4 252.9 520.1 250.3 520.4 247.0 519.0 242.6 518.7 240.4 520.6 235.5 524.4 235.1 529.3 234.2 534.2 234.4 539.7 235.5 543.8 237.7 547.3 240.4 549.0 241.5 550.1 245.9 549.0 249.2 548.7 250.3 545.7 250.5 542.4 254.7 541.1 258.0 541.1 258.5 543.8 256.9 547.9 255.4 550.6 255.2 555.5 256.9 556.6 262.4 556.3 266.0 558.2 265.5 562.9 265.3 568.3 266.8 571.9 270.2 575.7 273.5 574.3 276.8 574.0 279.4 576.2 280.5 576.2 283.4 571.0 285.6 569.7 288.9 568.9 291.8 567.8 292.2 570.2 293.3 569.9 295.1 568.3 296.6 568.3 299.9 571.0 304.4 570.8 308.8 570.8 312.1 570.8 314.3 572.9 316.5 576.5 319.8 577.8 323.1 582.5 328.6 583.6 333.0 584.7 336.4 588.2 337.5 592.8 339.7 594.7 339.7 598.3 343.0 602.4 348.5 602.4 351.8 606.5 357.3 607.3 361.7 607.3 365.0 609.7 368.4 613.0 372.1 613.8 373.2 619.3 372.8 624.2 369.7 628.3 367.3 632.3 364.2 636.4 363.9 643.2 362.8 648.7 361.1 655.5 359.5 659.6 357.3 662.3 351.8 663.1 347.4 665.0 343.0 670.5 342.5 677.3 339.7 682.8 336.4 686.3 331.9 691.8 329.7 694.5 326.4 694.8 321.1 693.7 323.6 696.4 324.7 699.4 323.1 703.2 319.8 705.1 313.2 705.9 312.5 710.3 306.6 711.4 306.6 714.1 309.4 716.0 307.7 716.8 305.9 720.9 302.2 723.6 301.1 726.4 304.4 729.1 300.4 734.5 298.8 736.4 297.7 740.0 299.1 742.2 295.5 743.5 293.3 746.3 290.0 744.6 285.6 742.7 283.4 735.9 283.4 730.5 285.6 725.0 286.7 719.5 287.8 714.1 287.4 708.6 288.3 701.8 290.0 696.4 292.0 689.6 292.2 681.4 292.7 674.6 294.2 667.8 294.9 656.9 294.9 650.1 292.2 646.8 284.5 641.9 281.6 636.4 279.6 632.3 276.8 625.5 273.9 618.7 270.8 616.0 272.8 609.2 273.5 606.5 271.5 603.7 272.6 599.6 273.9 596.4 276.1 594.7 279.0 590.1 279.2 581.9 277.4 578.9 274.6 575.4 272.6 579.5 270.2 577.6 266.8 577.0 265.3 575.1 262.0 572.7 260.9 569.7 257.4 564.8 254.7 563.7 251.4 562.0 248.1 561.5 244.8 557.4 241.5 555.5 237.1 556.9 232.6 555.2 228.2 552.8 223.8 550.6 219.8 547.6 217.2 544.3 217.6 541.1 215.4 536.4 212.8 532.9 209.5 529.3 206.2 523.9 202.4 519.3 199.5 514.4 196.7 513.0 197.1 516.5 200.0 521.2 202.4 525.5 205.1 530.2 206.6 534.2 208.4 536.7 207.3 537.2 204.0 532.9 202.4 529.3 200.2 526.6 197.3 523.9 196.2 519.3 194.0 516.5 192.3 513.0 191.4 510.8 190.5 508.6 188.5 507.0 184.1 505.6 181.2 500.7 179.7 497.5 178.6 495.6 176.8 492.0 175.7 489.3 175.9 485.2 175.3 482.5 176.4 478.4 176.4 473.8 176.2 471.6 174.8 467.8 178.6 468.3 178.1 465.9 174.2 462.6 168.7 459.3 166.4 455.2 163.1 451.7 159.8 448.4 156.5 444.3 152.1 440.2 147.7 439.4 142.2 437.2 137.8 436.1 132.2 435.9 126.7 433.7 122.3 434.5 119.0 432.9 115.7 434.8 115.0 438.1 111.3 437.5 110.2 439.4 105.8 442.1 101.3 445.7 96.9 447.9 91.4 449.8 87.0 451.1 90.3 449.2 95.8 447.0 100.2 444.3 102.5 440.2 99.1 439.4 93.6 440.0 92.5 436.7 88.1 435.3 85.2 433.4 83.7 430.7 85.9 428.0 90.3 427.4 94.7 426.1 94.7 423.9 90.3 423.9 85.9 423.9 82.6 423.1 79.3 420.9M288.9 385.7 291.1 380.8 306.6 377.6 317.6 376.2 339.7 374.8 361.7 372.1 383.8 372.1 401.5 374.8 405.9 377.6 423.5 377.6 410.3 381.6 408.1 387.1 409.2 391.2 405.9 395.3 403.7 400.7 401.5 404.8 401.5 408.1 397.0 410.3 390.4 413.0 381.6 414.3 376.1 417.1 370.6 420.3 363.9 421.2 361.7 423.9 358.4 428.0 356.2 432.1 354.0 435.9 350.7 435.6 345.2 433.4 340.8 429.3 337.5 425.2 334.2 421.2 331.9 417.1 331.9 413.0 336.4 410.3 330.8 407.5 333.0 404.8 327.5 402.1 324.2 398.0 319.8 393.1 311.0 392.0 302.2 391.2 295.5 389.8 290.0 387.1 288.9 385.7M313.4 417.6 307.9 421.7 306.6 426.6 299.9 428.8 292.2 426.9 285.6 423.6 279.0 423.9 285.6 418.4 287.8 413.5 281.2 410.3 273.5 409.4 264.6 408.9 254.7 407.5 251.4 403.4 260.2 398.8 273.5 399.1 282.3 401.8 291.1 404.8 298.8 407.5 302.2 411.1 304.4 414.3 313.4 417.6M251.4 391.2 273.5 392.0 279.0 388.5 286.7 385.7 295.5 383.0 308.8 378.1 313.2 375.4 295.5 373.5 273.5 373.5 251.4 376.2 244.8 378.9 240.4 383.0 238.2 387.1 251.4 391.2M273.5 396.6 251.4 396.1 247.0 392.5 253.6 391.2 269.1 391.7 273.5 396.6M189.6 411.6 200.6 412.7 218.3 411.9 226.0 409.4 224.9 403.4 216.1 399.4 207.3 401.3 198.4 399.9 188.5 402.1 189.6 406.2 189.6 411.6M174.2 403.7 184.1 404.0 190.7 399.4 180.8 396.9 174.2 398.0 172.0 402.1 174.2 403.7M233.7 403.4 238.2 399.4 238.2 398.0 229.3 399.4 227.1 402.1 233.7 403.4M194.0 396.6 218.3 393.9 216.1 391.2 202.9 391.7 191.8 391.2 194.0 396.6M229.3 393.9 236.0 393.1 233.7 390.4 227.1 391.5 229.3 393.9M247.0 384.4 240.4 380.3 244.8 378.1 255.8 380.3 258.0 383.0 247.0 384.4M260.2 425.2 271.3 426.6 272.4 423.9 262.4 421.2 258.0 422.5 260.2 425.2M318.9 469.9 326.4 470.2 327.5 471.8 331.9 472.4 333.7 469.9 333.0 467.5 331.7 465.0 327.5 463.9 327.1 459.0 324.2 459.9 320.9 465.6 318.9 469.9M177.9 467.8 174.6 467.2 168.7 462.9 166.9 461.2 173.1 462.6 176.4 465.0 177.9 467.8M262.4 540.0 269.1 536.4 273.5 536.7 279.0 540.2 283.0 542.4 286.5 544.6 283.2 545.4 278.5 545.4 279.0 542.4 272.4 540.0 269.1 538.9 264.6 540.0 262.4 540.0M285.8 549.2 289.4 545.4 295.5 546.0 299.1 549.0 295.5 550.1 292.2 551.7 285.8 549.5M277.2 549.5 281.9 550.3 280.5 551.1 277.4 550.1 277.2 549.5M301.7 549.2 305.2 549.5 304.8 550.6 301.7 550.6 301.7 549.2M314.7 739.4 318.7 739.2 322.5 740.0 320.9 741.9 315.4 741.6 314.7 739.4M52.8 411.9 58.3 413.5 64.9 416.8 70.5 417.3 75.5 419.5 72.7 421.2 68.7 424.2 63.8 423.1 56.1 421.2 52.8 422.3M52.8 404.8 58.3 405.6 55.0 406.4 52.8 406.4M70.9 425.8 77.7 427.2 73.8 428.0 70.9 425.8M82.6 435.1 84.6 435.9 82.4 436.7 82.6 435.1M109.1 441.6 114.1 441.3 111.9 444.3 109.1 441.6M437.6 501.5 435.9 499.4 433.5 498.3 430.1 498.8 430.6 494.7 429.0 493.9 430.4 490.1 430.6 485.2 429.5 482.5 432.3 480.6 437.9 481.1 443.4 481.4 446.0 481.4 447.4 477.8 447.1 473.8 445.1 470.8 440.1 469.1 439.8 467.2 443.4 466.7 446.5 467.2 446.9 464.2 450.4 464.8 453.3 462.9 453.8 460.7 456.6 459.9 459.3 458.2 460.6 455.2 464.3 453.9 468.8 453.3 469.4 451.1 468.8 448.4 467.9 445.4 469.0 444.1 473.2 442.4 472.7 445.7 473.8 447.0 471.6 449.8 473.8 452.5 476.5 452.0 479.8 451.4 482.0 452.8 486.4 451.1 490.8 450.3 493.0 451.4 496.3 449.2 496.3 445.7 497.7 443.0 499.7 442.4 503.6 443.8 503.0 440.8 501.9 438.3 506.3 437.2 511.8 437.5 516.2 436.1 512.9 434.8 507.4 435.1 500.8 436.1 497.2 434.2 497.4 429.3 499.7 426.6 504.1 423.1 506.3 422.0 504.1 420.3 499.7 420.1 497.4 421.7 495.2 425.8 491.9 427.2 489.3 429.3 488.4 433.4 488.2 434.5 491.3 435.9 489.7 438.1 486.4 440.2 486.4 443.5 485.3 446.5 481.3 448.7 478.5 448.1 477.6 445.7 476.0 442.4 474.7 438.9 473.2 437.5 471.0 438.9 467.7 441.3 463.2 441.1 462.1 438.9 461.0 434.8 461.0 431.2 463.2 429.3 467.7 427.2 472.1 424.7 474.3 422.5 477.6 418.4 480.9 415.7 484.2 413.0 487.5 411.1 491.9 409.4 496.3 408.4 501.9 406.7 507.4 406.2 512.9 406.4 518.4 408.1 516.2 409.4 521.7 410.3 529.4 411.6 536.1 414.1 540.5 415.7 539.4 419.0 535.0 419.5 527.2 418.4 522.8 417.9 526.1 422.5 530.5 423.1 532.8 424.7 538.3 423.9 543.8 418.7 547.1 419.8 547.5 416.5 546.0 413.0 551.5 413.5 555.9 415.2 560.3 414.3 567.0 413.0 570.3 413.5 575.8 412.7 581.3 413.0 584.6 409.4 589.0 410.3 595.6 411.6 601.2 413.8 600.1 410.3 597.8 407.5 598.5 404.8 601.2 401.8 603.4 400.7 607.8 401.0 610.0 403.4 610.4 406.2 610.0 410.3 610.4 414.3 612.2 418.4 615.5 417.1 614.4 413.0 612.9 410.3 614.4 406.2 611.1 404.8 615.5 402.1 622.1 402.6 626.5 402.6 628.7 398.8 635.4 398.3 642.0 398.0 642.0 396.4 653.0 393.9 666.3 391.7 679.5 387.9 683.9 389.0 688.3 391.2 694.9 390.6 700.5 392.8 699.4 398.0 694.9 398.8 700.5 399.4 710.4 399.1 719.2 400.7 728.0 399.4 733.6 401.3 735.8 404.8 740.2 406.4 747.9 404.5 754.5 404.8 758.9 402.1 765.6 401.5 772.2 402.6 781.0 404.8 785.4 406.4 796.4 406.2 802.0 407.0 804.2 409.7 811.9 409.7 818.5 410.0 825.1 408.6 831.8 409.4 838.4 409.7 845.0 411.9 847.2 411.9M847.2 422.3 841.7 423.3 845.2 429.9 834.0 431.2 826.2 436.1 816.3 435.3 810.8 436.4 810.1 440.2 807.5 445.7 804.2 451.1 799.8 455.8 795.8 460.7 795.3 456.6 793.8 449.8 794.2 444.3 797.6 441.6 803.1 434.8 804.2 431.5 796.4 431.5 789.8 438.3 781.0 437.2 770.0 438.1 763.3 438.9 760.0 441.6 754.5 445.7 748.3 450.6 753.4 452.5 760.0 453.9 762.0 457.9 760.0 463.4 760.0 467.5 755.6 471.6 751.2 477.0 745.7 482.5 740.2 483.0 738.4 484.4 735.8 487.9 735.8 490.6 732.9 493.9 735.5 500.2 735.3 503.5 733.6 504.3 729.1 506.2 728.7 502.9 729.4 497.5 726.5 496.1 726.3 492.0 724.3 490.9 719.2 492.8 717.4 493.9 719.9 489.3 717.0 488.2 713.7 490.9 710.4 493.1 709.7 494.7 712.2 497.5 713.0 498.6 716.3 496.6 720.3 498.0 715.9 501.3 713.3 504.3 715.5 507.0 717.0 511.1 719.0 513.3 717.7 516.5 719.2 518.4 718.1 522.5 715.9 525.5 713.7 528.8 711.5 532.6 708.2 535.6 704.9 537.5 701.6 538.9 697.1 540.2 693.8 541.9 693.2 544.3 691.9 540.8 688.3 540.8 685.5 543.8 683.5 547.9 685.0 552.0 688.8 556.0 691.0 562.9 691.0 568.0 687.2 571.0 685.5 571.9 681.7 576.2 681.3 571.9 678.4 570.8 676.4 566.4 672.9 565.0 671.1 563.1 670.4 567.0 668.9 571.6 671.1 576.8 671.8 580.0 675.5 582.8 678.2 587.4 678.4 592.3 680.2 595.8 678.4 596.1 675.1 593.4 673.5 591.7 671.5 587.4 671.1 582.2 668.5 578.1 666.9 577.0 667.6 572.4 667.4 567.0 666.3 560.1 665.6 554.7 662.5 554.7 659.2 556.0 657.9 549.2 656.3 546.5 653.7 542.4 652.6 538.3 649.7 539.7 646.4 540.5 641.8 542.4 640.9 544.6 637.6 547.1 635.4 549.8 631.6 554.4 627.2 556.6 627.0 562.9 626.1 568.3 625.0 571.6 622.8 575.4 621.0 577.6 618.8 575.4 617.3 568.9 615.1 564.5 612.6 556.6 610.6 547.9 610.4 541.9 609.5 540.5 605.6 543.0 602.3 538.9 604.5 537.2 601.2 535.3 598.5 532.1 596.7 530.4 591.2 530.7 585.9 531.0 579.8 529.9 576.4 529.3 574.7 525.8 569.2 526.9 563.6 523.6 561.0 519.8 557.7 517.9 555.9 518.2 556.4 522.0 559.2 526.1 560.8 528.8 562.1 532.1 563.6 530.7 563.9 533.7 569.2 533.7 573.6 530.2 574.5 528.0 574.2 532.9 576.4 534.8 579.8 535.6 582.0 538.3 579.1 543.8 577.3 547.9 574.2 551.1 571.4 553.3 567.0 554.7 565.2 557.1 559.2 560.1 555.9 561.5 550.4 564.2 546.0 565.0 545.3 563.4 544.2 557.4 543.3 552.0 540.3 546.5 536.5 541.1 535.0 535.6 532.1 530.7 529.0 524.7 526.8 522.8 527.2 519.3 526.1 519.3 525.5 523.3 523.9 522.0 521.9 518.2 521.3 514.6 525.5 514.4 526.4 512.5 527.5 509.7 528.6 505.6 529.2 502.9 529.9 499.6 526.6 499.4 522.4 501.3 517.3 500.5 512.2 499.6 510.2 497.5 508.3 495.3 509.1 492.0 507.8 490.6 510.2 489.6 514.0 487.9 514.2 487.4 511.8 486.3 511.6 483.3 513.1 479.8 515.3 477.0 516.2 475.1 518.4 472.7 523.9 474.3 521.7 476.2 523.9 478.7 528.3 477.0 530.5 476.2 535.0 472.9 532.8 477.6 537.2 479.8 541.8 483.8 541.6 486.6 533.9 487.9 527.2 485.2 519.5 487.4 514.2 487.4M507.8 490.6 507.4 488.7 503.0 488.2 500.5 489.0 499.9 492.0 500.8 495.3 503.0 496.1 500.8 497.5 500.5 500.2 497.9 499.4 497.0 496.6 496.6 494.7 494.6 492.0 492.8 489.3 493.0 485.7 490.8 483.8 485.3 481.1 483.1 478.4 482.0 476.2 480.0 475.4 477.1 475.9 477.4 479.2 480.0 481.1 482.4 484.9 485.7 486.6 490.8 490.4 487.5 489.3 486.4 492.0 487.7 493.6 485.3 496.1 484.4 495.6 484.9 492.0 482.4 489.0 480.5 487.4 477.4 486.0 474.3 483.8 472.7 480.8 469.9 478.7 466.8 480.3 464.3 482.2 461.0 481.4 458.8 481.1 456.8 482.2 457.1 485.5 454.4 487.4 452.0 487.9 450.0 491.2 449.3 493.9 450.4 494.2 448.5 497.2 445.4 499.6 440.3 499.6 437.6 501.5M553.7 478.4 558.1 472.9 563.6 471.6 567.0 472.9 567.4 476.2 563.2 477.0 566.3 483.8 567.0 487.9 569.2 490.6 567.4 492.6 569.2 498.0 563.6 499.6 558.6 497.2 558.1 494.7 559.2 489.8 555.9 485.5 553.7 481.1 553.7 478.4M579.1 472.9 585.7 475.7 583.5 480.3 579.1 479.8 579.1 472.9M679.1 458.8 682.8 456.6 688.3 453.9 691.6 447.9 689.4 449.0 685.0 453.9 680.6 457.9 679.1 458.8M612.2 472.9 617.7 472.9 624.3 472.9 623.2 474.8 614.4 474.8 612.2 472.9M517.3 434.0 522.4 434.0 521.7 432.1 517.3 432.6 517.3 434.0M526.1 433.4 530.5 432.6 528.3 428.5 526.1 429.3 526.1 433.4M437.4 463.4 442.3 462.6 447.8 461.5 452.9 460.4 453.8 456.3 450.4 455.5 450.4 453.9 448.7 451.1 446.5 448.1 444.5 446.5 446.0 443.0 442.9 440.0 439.0 440.0 437.2 443.0 437.9 446.2 439.2 449.2 442.7 450.3 442.9 454.1 439.8 455.5 440.7 458.2 438.5 458.8 442.7 459.6 440.1 460.7 437.4 463.4M436.8 457.4 436.3 452.5 437.9 451.1 436.3 449.2 433.5 449.0 431.2 451.1 427.9 452.0 428.4 455.2 427.5 458.5 431.2 459.0 436.8 457.4M400.4 425.2 397.0 421.2 401.5 418.7 410.3 419.5 416.9 418.4 420.2 422.0 417.3 424.4 410.3 426.9 403.7 425.8 400.4 425.2M474.3 384.9 476.5 382.2 487.5 381.6 494.1 380.3 509.6 381.1 498.5 384.4 491.9 387.1 487.5 391.2 480.9 389.0 474.3 384.9M564.7 404.8 568.1 399.4 572.5 395.3 580.2 392.0 600.1 390.1 591.2 394.7 580.2 397.5 575.8 402.1 573.6 406.2 567.0 407.5 564.7 404.8M659.6 384.4 670.7 387.1 681.7 385.7 675.1 381.6 666.3 378.9 659.6 380.3 659.6 384.4M752.3 395.3 758.9 398.0 770.0 393.9 763.3 392.5 754.5 392.0 752.3 395.3M847.2 404.8 844.3 405.6 847.2 406.4M738.9 507.0 742.4 502.9 749.0 502.6 752.1 498.3 755.6 497.5 758.3 494.7 758.9 490.6 759.6 486.8 762.2 487.1 763.1 492.0 761.1 496.6 760.9 500.2 760.7 502.4 758.5 504.3 756.3 505.4 752.3 505.4 751.9 508.4 748.3 507.5 747.9 505.4 743.5 506.2 740.2 507.3 738.9 507.0M736.9 508.4 740.6 508.4 740.2 513.8 738.0 514.6 736.2 510.5 736.9 508.4M742.4 509.7 746.8 506.5 746.4 508.9 743.5 510.3 742.4 509.7M758.9 486.6 761.6 485.7 766.2 485.2 771.1 481.7 768.9 479.8 763.3 475.9 762.5 478.4 762.0 481.7 759.6 481.7 758.9 483.8 758.9 486.6M763.3 474.3 766.7 472.9 765.6 466.1 768.9 466.1 766.0 459.3 765.6 454.4 764.5 451.7 764.0 457.9 762.9 463.4 763.3 468.8 763.3 474.3M715.0 537.0 717.0 531.0 719.2 531.5 718.1 535.6 716.6 539.7 715.0 537.0M689.9 547.3 693.8 544.9 694.9 546.2 691.6 550.1 689.9 547.3M716.1 549.2 719.7 549.2 719.2 553.3 718.3 556.6 717.9 561.0 720.3 560.7 723.6 564.2 722.1 564.2 716.1 560.4 714.8 556.0 716.1 549.2M719.2 580.6 721.4 576.5 724.7 576.5 726.9 573.2 729.1 580.6 728.0 582.8 726.3 584.4 723.6 581.9 719.2 580.6M724.3 565.6 727.4 567.0 726.3 572.4 724.7 571.9 724.3 565.6M719.2 567.5 721.9 569.7 721.4 574.6 720.1 572.9 719.2 567.5M708.6 576.8 713.7 571.0 714.4 568.9 711.5 573.8 708.6 576.8M690.5 595.6 691.9 594.2 694.9 595.3 699.4 591.2 701.6 587.4 704.9 585.5 707.1 581.4 709.7 582.8 713.3 585.2 711.5 587.4 709.9 591.5 710.4 596.9 709.3 599.6 707.7 603.2 706.6 609.2 702.7 610.5 699.4 608.6 696.0 607.8 693.2 607.6 692.7 603.7 691.0 601.0 690.5 595.6M660.3 584.4 665.2 585.5 667.8 589.6 671.8 594.2 676.2 598.3 679.5 602.4 683.5 607.8 683.7 615.5 680.6 615.7 675.7 610.5 672.9 606.5 669.6 601.0 667.8 594.7 665.2 592.0 661.8 588.2 660.3 584.4M682.1 618.2 685.0 616.0 689.0 616.8 693.8 617.9 698.2 618.5 702.7 620.6 702.4 623.4 698.2 622.5 692.7 621.7 688.3 620.9 685.0 619.8 682.1 618.2M704.9 622.3 712.6 622.3 712.6 624.2 706.0 624.2 704.9 622.3M713.7 622.8 721.4 622.0 721.4 623.6 714.8 624.2 713.7 622.8M722.5 627.7 725.8 624.2 730.9 622.5 728.0 625.5 723.6 628.3 722.5 627.7M712.6 626.1 716.6 627.7 713.7 626.9 712.6 626.1M713.7 614.6 713.5 607.8 712.2 607.0 714.4 601.0 715.9 597.2 721.4 597.2 725.8 595.3 723.6 598.3 718.1 598.3 715.9 601.8 718.1 602.4 722.1 602.1 718.1 604.8 720.3 611.9 718.1 612.7 716.3 607.3 715.5 614.6 713.7 614.6M731.4 594.7 733.6 595.6 732.5 598.3 734.2 601.0 732.0 600.5 731.4 594.7M732.0 608.4 738.6 607.8 738.0 609.5 732.5 609.7 732.0 608.4M728.0 608.4 730.7 608.4 729.8 610.3 728.0 609.5 728.0 608.4M739.1 603.5 742.4 600.7 746.1 602.1 747.9 608.6 754.3 603.7 760.0 606.5 764.5 608.6 768.9 610.3 771.7 614.4 775.5 616.5 777.0 621.5 781.7 627.7 776.6 627.4 773.3 623.4 767.8 620.6 765.6 624.7 761.1 624.4 756.7 621.7 754.5 622.5 752.3 612.7 749.0 611.6 745.7 610.0 742.4 607.3 741.3 605.6 739.1 603.5M777.7 614.6 781.0 613.3 784.3 611.1 786.1 613.3 782.1 616.5 777.7 614.6M782.1 606.5 785.4 609.2 787.6 612.5 786.5 611.9 782.1 607.0M792.0 616.0 794.2 618.2 793.1 618.5 791.6 616.5M796.4 620.1 802.0 622.8 800.9 623.6 796.4 621.5M802.0 624.7 804.8 626.4 804.2 626.9 802.0 625.5M805.3 624.7 807.5 628.3 806.4 628.5 804.8 625.5M817.4 640.5 819.6 641.9 821.4 645.4 822.9 650.1 821.8 650.9 819.6 644.6 817.4 641.3M811.9 654.7 815.2 656.9 818.5 660.4 817.4 660.7 813.0 657.4 811.9 655.0M841.2 647.3 843.9 647.3 843.9 649.2 841.2 648.7 841.2 647.3M626.1 572.9 628.7 576.5 630.5 579.8 629.8 582.8 627.6 583.6 626.1 581.1 626.1 572.9M477.4 496.1 484.4 495.3 483.3 499.6 477.4 497.2 477.4 496.1M468.1 487.9 471.2 487.7 471.2 492.8 468.5 493.4 468.1 487.9M469.0 485.2 470.7 482.5 471.0 486.8 469.0 485.2M501.9 503.5 508.0 503.7 505.2 504.5 501.9 503.5M521.3 504.3 526.1 502.6 524.6 505.4 521.3 504.3M437.2 502.1 435.7 505.6 433.2 508.1 429.5 511.4 428.6 516.5 427.9 520.6 424.6 523.3 421.3 524.2 418.0 528.8 415.8 532.9 414.0 534.8 412.5 542.4 414.0 546.5 414.5 550.6 413.6 556.0 411.4 559.6 412.9 562.9 413.1 565.9 416.2 568.3 418.0 571.0 420.7 574.6 422.4 578.9 425.7 581.1 429.0 584.9 433.5 587.7 437.9 585.8 443.4 585.8 447.8 584.7 452.2 583.3 455.5 582.5 459.9 582.5 462.6 587.7 464.3 587.9 467.7 587.4 469.9 588.8 471.6 591.5 471.4 594.2 470.7 598.0 470.5 601.3 469.4 601.6 472.1 606.5 476.0 611.4 476.9 615.5 479.1 622.8 479.8 628.8 480.5 631.8 477.8 636.4 476.3 641.9 476.0 646.8 477.6 651.4 479.8 656.9 482.0 662.3 482.4 669.1 483.5 673.2 486.4 677.6 488.0 681.4 490.2 686.8 490.4 690.9 490.8 692.8 494.1 694.5 498.5 692.8 501.9 692.3 506.3 692.0 509.6 690.9 512.9 688.2 516.2 684.1 518.4 680.9 521.5 677.3 522.6 671.0 523.9 668.9 528.1 665.0 528.3 659.6 527.2 654.1 530.1 651.2 533.9 646.5 537.8 643.8 539.4 639.2 539.4 632.3 538.7 628.3 536.7 622.3 536.9 617.4 535.6 616.0 536.5 612.2 538.7 607.0 541.6 604.3 543.8 601.3 547.1 596.9 551.5 593.7 554.8 587.9 557.7 581.9 561.4 573.8 563.2 567.5 559.2 568.9 553.7 569.9 549.3 571.3 545.8 568.0 545.3 565.6 543.8 560.1 540.5 558.8 537.4 557.4 535.0 550.6 532.8 548.4 531.9 542.4 528.8 534.5 526.8 530.2 524.8 526.1 521.9 518.2 521.3 514.4 518.4 513.8 515.5 514.6 511.8 515.2 505.8 513.5 502.5 511.9 499.9 510.3 496.3 510.3 494.4 512.5 493.7 515.7 490.8 516.5 486.4 514.6 484.0 512.5 479.8 510.3 475.4 509.5 472.5 508.1 473.8 504.8 474.1 502.4 472.9 499.6 474.3 498.6 471.6 498.0 468.8 499.1 464.3 498.6 458.8 499.1 453.3 500.2 447.8 502.4 445.1 504.0 441.2 503.7 438.3 501.8 437.2 502.1M558.8 632.3 561.2 641.9 559.2 647.3 557.9 654.1 554.8 666.4 549.7 669.4 547.1 666.4 546.0 659.6 547.8 654.1 547.1 647.3 552.2 643.0 555.5 639.2 558.8 632.3M520.2 600.5 522.8 598.8 525.0 599.6 526.1 601.0 523.9 606.5 520.6 606.5 519.7 603.7 520.2 600.5M514.4 608.6 515.1 608.9 517.3 614.6 518.4 620.1 517.3 623.1 515.8 621.5 514.7 616.0 514.4 608.6M525.0 625.5 526.4 628.3 527.7 637.3 526.1 638.6 525.0 632.3 525.0 625.5M479.8 562.0 482.0 562.9 482.0 564.8 480.5 564.2 479.8 562.0M448.9 577.8 450.4 580.6 450.0 582.2 448.9 577.8M529.0 587.4 530.1 591.5 529.4 592.8 529.0 587.4M700.5 659.6 701.6 670.5 702.0 677.3 703.8 682.8 705.3 686.3 704.9 690.9 703.8 693.1 710.2 695.3 714.8 692.0 722.5 692.0 728.0 687.7 734.7 685.8 739.5 685.5 746.1 688.8 749.2 694.5 751.2 689.8 754.1 689.6 753.6 694.8 755.6 696.4 758.1 700.2 760.3 703.2 766.7 705.4 769.5 703.2 772.8 706.2 776.6 702.7 781.0 701.8 781.4 696.9 783.6 692.0 786.5 687.7 788.9 677.3 787.8 670.5 787.0 668.6 783.9 664.5 782.8 661.2 779.9 660.4 778.4 655.2 772.8 651.4 772.0 645.4 770.6 640.5 766.7 637.8 764.5 629.1 762.5 635.1 762.2 641.9 760.3 647.6 757.8 647.3 754.1 643.8 751.2 642.2 749.0 640.0 751.9 632.9 750.1 632.3 743.5 631.0 740.2 630.2 737.3 633.4 735.8 639.2 732.5 640.5 729.1 637.8 724.7 641.9 722.5 646.0 719.7 648.7 717.0 653.1 711.5 655.0 707.5 655.8 702.9 659.1 700.5 659.6M769.1 710.6 777.2 711.1 776.6 717.4 772.2 718.5 770.4 714.1 769.1 710.6M831.1 693.7 835.1 697.8 838.2 701.8 843.9 702.4 842.6 706.5 840.1 708.6 836.8 713.0 835.3 711.9 836.2 708.1 833.5 706.5 835.3 703.5 834.6 699.1 831.1 693.7M831.1 710.0 834.6 713.3 832.4 716.8 831.1 719.0 827.8 720.4 826.5 724.7 822.9 726.6 817.4 725.0 818.5 722.3 821.4 719.5 826.2 716.3 829.5 712.5 831.1 710.0M247.0 472.4 252.5 468.8 259.1 466.9 262.9 471.8 263.5 473.2 256.9 472.9 250.3 472.7 247.0 472.4M256.3 485.2 258.0 486.0 259.8 484.4 259.6 478.4 262.4 474.8 259.1 474.6 256.5 478.4 256.3 485.2M263.1 474.3 268.0 476.2 268.2 482.5 269.7 479.8 273.5 477.6 271.3 474.3 263.1 474.3M265.7 486.0 271.3 485.7 275.7 483.0 272.4 483.6 268.0 485.2 265.7 486.0M273.9 481.7 281.2 481.1 281.9 479.2 276.8 480.0 273.9 481.7M236.0 462.0 237.5 459.3 232.0 453.0 233.7 457.9 236.0 462.0M191.8 433.4 199.5 432.1 209.5 428.5 199.5 430.2 191.8 432.6M178.6 422.5 183.0 417.6 188.5 419.0 186.3 422.5 178.6 422.5M204.0 439.7 210.6 437.5 215.0 438.1 209.5 439.4 204.0 439.7M223.8 445.7 225.4 441.9 223.2 443.0 223.8 445.7M296.0 641.3 298.4 643.0 297.3 644.6 296.0 641.3M105.8 544.3 108.0 545.7 106.9 547.9 105.8 546.0 105.8 544.3M100.7 540.8 102.0 541.6 101.3 541.9 100.7 540.8M104.2 542.4 105.8 543.0 104.7 543.5 104.2 542.4M97.4 539.2 98.5 539.4 97.8 540.0 97.4 539.2M52.8 828.5 85.9 829.9 119.0 831.3 143.3 831.3 130.0 829.4 112.4 828.8 119.0 823.1 126.7 818.5 105.8 814.1 114.6 810.3 121.2 808.1 141.1 805.1 165.3 802.1 185.2 800.8 216.1 801.6 229.3 797.8 260.2 799.1 283.2 793.4 298.0 787.4 303.3 780.9 311.0 775.4 319.8 771.9 324.2 772.1 322.0 775.4 316.5 780.9 313.2 787.7 313.2 794.5 308.8 801.3 295.5 808.1 277.9 811.7 265.3 814.1 284.5 817.6 300.6 818.5 318.3 824.5 339.7 823.1 359.5 821.5 389.3 817.1 397.0 810.8 404.1 803.8 424.6 794.8 448.2 792.9 477.8 790.9 507.4 789.9 525.2 786.0 536.9 787.4 551.5 783.6 566.5 780.0 573.1 779.0 586.8 782.8 602.0 785.5 600.5 795.0 605.6 786.3 624.3 785.5 639.8 782.2 656.3 780.0 670.7 780.0 688.3 780.6 703.8 781.7 720.3 781.1 736.9 780.0 752.3 779.0 770.0 782.2 784.3 785.5 803.1 789.0 816.3 791.8 825.8 795.0 818.5 799.9 809.7 806.2 805.3 810.8 803.5 815.7 816.3 823.6 829.5 826.4 847.2 828.5M328.6 817.6 344.1 814.9 361.7 815.7 350.7 818.7 328.6 817.6M85.9 814.9 96.9 814.4 101.3 816.6 88.1 816.3 85.9 814.9M291.1 787.7 296.6 789.0 295.5 797.2 286.7 795.8 291.1 787.7M224.9 795.3 238.2 795.3 231.5 797.2 224.9 795.3M313.2 770.0 322.0 768.6 328.6 766.4M347.4 764.8 351.8 765.1M366.1 746.8 370.6 747.3 371.0 749.0M87.0 451.1 82.6 453.0 78.2 454.7 72.7 456.3 67.1 457.4 61.6 458.5 57.2 458.8 52.8 458.5M847.2 458.5 842.8 458.2 838.4 457.4 834.0 456.3 830.7 455.2M771.1 481.1 774.4 479.2 777.7 476.5 781.0 473.8 784.3 471.0 787.6 468.3 790.9 465.6 793.8 462.9 795.3 461.2M737.3 515.2 735.8 522.0 732.9 526.6 730.2 528.3 726.9 532.3 723.2 533.4M758.5 509.5 758.5 511.4M553.7 380.3 564.7 378.4 578.0 377.6 586.8 379.5 573.6 381.4 558.1 381.4 553.7 380.3M489.7 383.0 498.5 380.6 509.6 381.4 503.0 383.6 489.7 383.0M557.0 411.1 559.7 410.5 558.8 412.2 557.0 411.1M579.1 408.1 583.1 408.9 581.3 410.0 579.1 408.1M763.3 395.3 776.6 393.9 781.0 395.3 772.2 396.4 763.3 395.3M670.7 385.7 679.5 384.9 677.3 387.1 670.7 385.7M810.8 438.9 813.0 438.3M313.4 570.5 315.4 570.2 315.4 572.1 313.4 572.1 313.4 570.5M412.0 510.3 413.1 510.5M468.8 589.6 469.6 590.4M464.6 598.8 464.8 599.4M536.5 615.2 537.2 617.1M545.5 631.0 548.0 633.2M576.9 654.4 577.3 655.2M572.0 656.9 572.7 657.7M572.2 612.2 572.5 612.5M610.2 569.7 611.1 572.4M654.6 562.6 655.0 567.0 654.3 570.5M655.2 574.6 657.0 580.0M664.5 595.6 665.8 597.5 667.4 601.0 668.9 604.0 671.5 608.4M682.1 603.7 685.7 606.5 684.3 607.8 682.1 603.7M667.8 603.2 669.1 604.8M714.4 622.8 721.0 622.3 721.2 623.4 714.8 623.9 714.4 622.8M746.1 615.5 747.5 617.6M739.5 620.1 740.4 621.7M742.8 614.9 743.9 615.5M720.3 570.8 722.1 571.3 721.4 574.9 720.3 570.8M715.7 562.9 718.1 564.2 717.4 566.4 715.7 562.9M722.5 569.1 723.6 571.6 722.5 573.5M723.2 572.4 724.7 572.9M714.4 586.0 716.8 583.6 717.7 583.3M845.0 644.6 847.2 645.4M97.4 657.4 97.6 657.7M120.1 647.6 120.5 648.2 115.7 644.9M162.9 668.0 162.9 668.0M248.1 601.0 250.3 601.6 252.3 602.1M286.7 713.6 287.8 717.6 286.3 716.8M819.6 656.3 821.2 658.2M799.8 620.1 802.2 621.7M791.2 614.1 794.0 618.2M773.9 605.1 775.3 605.4M820.7 678.7 820.7 678.9M801.1 685.5 801.1 685.8M57.4 679.5 56.1 682.8M60.3 719.0 61.2 719.8M800.6 748.2 800.6 749.0M602.7 732.6 605.6 734.0 603.4 734.8 602.7 732.6M563.6 725.8 565.2 726.1M612.0 744.3 612.6 744.3M457.5 747.9 457.5 748.2M422.9 700.7 422.9 701.0M437.4 643.0 437.4 643.2M418.2 621.2 418.2 621.5M621.0 705.1 621.0 705.4M809.7 780.9 813.0 783.6M307.0 511.6 307.2 511.4M434.1 429.9 435.4 431.0M447.1 434.5 447.4 436.4M442.9 438.6 443.8 439.4M433.5 443.5 436.1 440.5M431.2 406.2 432.6 405.9M491.9 396.9 492.4 396.6M490.2 441.9 491.7 443.5M474.3 447.6 477.6 447.0 477.1 449.0 474.7 449.2 474.3 447.6M455.1 491.7 457.3 491.2 457.1 492.6M511.3 500.7 512.2 501.0M507.4 492.6 508.7 493.1M500.5 493.6 504.1 495.8M482.4 449.2 483.3 449.5M498.1 440.2 501.2 440.8M493.5 435.6 494.8 435.9M567.6 565.3 570.3 565.6M561.4 528.3 561.7 529.3M572.0 526.3 574.2 526.6M693.4 545.1 694.1 545.4M728.5 508.6 730.0 508.6M735.3 505.4 735.5 506.2M755.0 495.6 755.6 496.6M757.6 505.1 758.5 509.5M815.9 449.0 817.6 450.6M74.2 443.8 75.7 444.1M68.5 435.1 69.1 435.6M77.1 420.3 76.9 420.6M156.5 452.2 159.4 453.9 159.8 456.6 158.1 455.8 156.5 452.2M148.8 441.1 153.2 444.3 155.4 447.9 157.6 449.8M307.7 463.7 313.8 465.3M308.3 472.7 313.2 473.2M314.3 475.4 317.6 472.1M269.5 455.0 271.7 455.5M274.6 445.7 275.7 447.0M272.4 430.2 274.6 431.2M266.8 428.8 270.2 430.7M306.6 435.6 307.7 434.8M306.6 432.1 307.7 432.6M232.6 410.3 238.2 410.3 237.1 413.0 232.6 410.3M240.4 402.1 249.2 398.0 242.6 398.5 240.4 402.1M238.2 395.3 243.7 395.3 241.5 393.6 238.2 395.3M180.8 392.5 191.8 389.3 187.4 393.1 180.8 392.5M216.1 387.1 227.1 384.9 220.5 388.5 216.1 387.1M273.5 400.7 280.1 399.1 277.9 401.3 273.5 400.7M264.6 418.4 265.7 419.3M323.8 458.2 323.1 458.8M573.6 436.1 569.4 444.1 562.1 448.4 556.8 451.1 555.0 457.4 549.7 462.6 543.6 469.7M535.6 431.5 534.5 436.1 533.9 441.3M601.2 535.1 606.7 532.6 612.2 532.9 614.4 537.0 613.3 541.1 611.1 544.6M612.2 532.9 615.5 534.2 618.8 532.1 622.1 533.4 622.8 529.6 620.6 526.6 621.0 524.7 617.7 522.0 616.6 517.9 613.3 517.9M614.4 537.0 617.7 541.6 622.1 540.8 627.6 541.1 630.9 538.3 633.2 534.2 630.9 531.5 626.5 531.5 622.8 529.6M611.1 544.6 614.4 540.5 617.7 541.6M627.6 541.1 628.3 547.9 625.4 549.2 621.0 550.6 621.0 556.0 614.0 556.0 612.6 556.6M614.0 556.0 618.8 558.8 622.1 561.5 623.2 565.6 619.9 567.8 618.8 568.3M621.0 550.6 624.3 547.9 627.6 549.2 629.8 551.4 635.4 549.8M619.5 568.6 623.2 565.0 627.2 562.9M615.5 565.0 618.8 569.7 620.6 576.5M621.0 524.7 626.5 522.0M635.4 525.0 635.4 531.5 633.2 534.2M635.4 531.5 639.8 530.7 644.2 531.0 643.1 538.3 640.9 539.7M630.9 538.3 635.4 538.9 640.9 539.7 642.0 541.1M630.9 547.9 635.4 549.8M617.7 522.0 620.6 516.5 623.9 513.8M628.7 533.7 632.1 538.3M647.5 527.4 653.0 528.8 659.6 526.1 661.8 524.7M654.1 532.9 656.3 530.2 658.5 527.4M665.6 554.7 664.0 545.1 665.2 538.3 667.8 534.2M683.5 547.9 679.5 552.0 681.7 557.4 683.5 564.2 682.1 568.3M671.1 563.1 670.7 557.4 669.6 550.6M685.0 538.3 682.8 542.4 685.5 543.8M177.9 466.1 239.9 466.1 239.9 465.0 241.2 466.9 244.8 467.2 248.1 468.6 252.3 468.8 255.8 468.0 262.9 471.8 263.5 472.9 265.5 474.0 268.0 476.2 268.2 482.5 266.6 484.9 268.0 486.0 275.7 483.6 275.7 481.7 281.2 480.6 282.3 478.9 285.2 477.0 292.2 477.0 293.8 475.9 295.1 473.5 297.3 470.5 299.5 470.8 300.4 475.1 302.2 477.0M138.9 410.0 138.9 435.3 143.3 436.1 146.6 438.9 151.0 436.7 155.4 440.2 160.9 447.0 163.1 449.8M191.6 511.1 196.9 510.5 205.1 514.4 211.2 514.4 211.2 513.0 215.0 513.0 219.4 518.7 222.7 520.6 226.0 518.4 230.4 524.7 235.5 529.1M176.4 473.8 187.4 474.3 191.8 474.3M191.8 466.1 191.8 474.3 192.9 475.7 191.8 479.8 191.8 485.2M175.9 485.2 205.1 485.2M185.2 485.2 185.2 493.4 197.1 504.3 197.3 509.7 196.9 510.5M198.4 485.2 198.4 500.7 197.1 504.3M194.0 466.1 194.0 470.2 197.3 472.9 198.4 475.7 201.8 478.4 205.1 478.4M205.1 477.0 205.1 487.9 209.5 487.9M205.1 477.0 220.5 477.0M220.5 466.1 220.5 487.9M209.5 487.9 224.9 487.9 224.9 498.8 209.5 498.8 209.5 487.9M209.5 498.8 209.5 514.4M222.7 498.8 222.7 512.5 214.8 512.5M222.7 500.2 229.3 500.2 229.3 505.6 234.9 507.3 241.5 508.1M224.9 490.6 239.7 490.6 241.2 493.4 241.2 498.8 224.9 498.8M220.5 482.5 232.6 482.5 237.1 483.8M220.5 474.3 236.8 474.3M235.5 466.1 236.8 474.3 237.1 481.1 248.8 481.1M238.6 489.0 248.1 489.0M241.2 500.2 251.0 500.2M242.6 509.7 248.8 509.7M242.6 509.7 243.0 518.7M241.2 498.8 241.7 503.2 241.5 508.1M248.8 481.1 249.2 485.2 248.3 489.6 251.0 493.9 252.5 498.8 252.1 501.5 250.3 504.3 249.0 509.7 248.1 515.2 252.1 515.2 252.5 517.4M254.7 504.3 254.9 516.8M252.5 500.2 269.7 499.9 282.5 499.9M250.7 504.3 264.0 504.3M261.1 504.3 262.4 511.6 262.4 515.2M256.7 515.2 262.4 515.2 262.7 516.0 269.1 516.3 270.2 516.0M266.6 504.3 271.3 512.2M266.6 503.7 274.1 504.8 276.8 507.3M264.0 504.3 269.7 499.9M246.3 472.4 245.2 475.7 248.8 481.1M249.2 483.8 256.3 483.8M250.5 472.7 255.8 474.8 256.7 476.8M256.9 486.0 256.9 494.2 255.8 496.6M262.9 486.0 262.9 493.1M256.9 486.0 265.7 486.0M253.4 498.8 255.8 496.6 260.2 496.4 262.9 493.1 267.7 495.0 272.1 489.0M272.4 485.2 272.4 491.5 282.7 491.5M272.4 485.2 283.8 485.2 285.2 486.8M267.7 495.0 269.3 497.5 273.5 497.5 276.8 493.4 278.5 492.6M288.3 477.0 288.3 487.4M287.8 483.3 293.3 483.3 294.0 482.2M290.0 477.0 290.0 483.3M293.3 476.2 294.0 482.2M287.8 485.2 291.6 485.2 291.6 487.1M246.5 560.1 247.0 556.0 250.3 555.8 250.3 551.1 253.4 551.1 253.2 556.3M253.2 556.3 252.9 560.4 255.8 561.8 256.3 563.7M257.4 564.2 262.4 560.4 266.4 558.8M260.9 569.1 265.3 569.9M267.1 577.8 267.7 573.5M278.1 580.0 279.4 576.2M216.1 513.0 220.5 526.1 227.1 531.5 231.5 537.0M209.5 514.4 211.7 527.4 217.2 538.3M224.9 539.7 230.4 546.5 234.9 552.0M290.7 567.2 290.0 570.2 290.2 579.5 295.3 580.6 301.1 582.8 300.4 587.9 301.5 593.7 302.4 596.4M275.7 596.4 280.1 598.6 283.8 599.9M283.8 599.9 287.8 603.7 295.5 611.1M295.5 611.1 296.6 602.4 295.5 596.1 299.9 595.0 302.4 596.4M302.4 596.4 308.8 594.2 311.4 589.3 316.1 585.5M316.1 585.5 317.6 576.5M324.2 583.3 322.0 594.2 325.3 594.5 329.7 593.4 335.3 592.8 336.4 588.2M330.8 584.1 329.7 593.4M272.8 608.9 275.2 612.7 277.2 608.6 283.4 603.7 283.8 599.9M295.5 611.1 288.9 620.1 287.8 624.2 290.0 626.4 294.4 629.6 296.6 629.6M296.6 629.6 297.7 633.7 296.6 641.9 296.6 647.3 294.7 649.5M296.6 629.6 305.9 626.4 305.9 631.0 311.0 635.1 316.5 637.3 317.6 644.1 321.4 644.1 323.1 648.7 322.0 653.6M322.0 653.6 311.9 660.1 306.6 659.6 302.2 661.8 299.5 657.7 296.6 647.3M302.2 661.8 298.8 666.4 298.8 673.2 295.5 681.4 295.5 689.6 294.4 697.8 293.3 708.6 291.8 719.5 288.9 733.2 290.0 740.0 297.7 741.9 298.6 743.0M322.0 653.6 322.5 659.9 327.5 661.0 330.2 665.0 329.5 669.4M311.9 660.1 322.9 668.6 320.7 674.0 326.9 674.3 329.5 669.4M329.5 669.4 331.5 671.0 326.9 676.5 322.9 681.9M322.9 681.9 327.5 684.1 331.9 691.5M322.9 681.9 321.4 690.1 321.1 692.3M446.0 481.4 451.1 483.3 457.1 484.1M430.4 485.5 435.7 485.5 434.8 487.9 434.6 492.0 433.9 494.7 433.5 498.3M455.5 460.4 459.3 463.7 462.8 464.8 468.1 466.1 466.8 469.9 463.5 473.8 465.4 474.6 467.0 477.0 466.6 480.3M457.5 459.6 461.0 459.3 463.0 461.2M465.9 454.4 465.4 457.4 463.0 461.2 463.5 463.1 462.8 464.8M469.0 450.0 471.8 450.3M481.3 452.8 482.2 456.6 483.1 460.7 486.0 461.5 491.5 464.8 499.9 466.1 503.0 462.0 501.9 457.9 501.9 452.8 500.3 451.4 493.0 451.4M476.7 462.6 482.7 460.9 483.1 460.7M476.7 462.6 480.5 466.7 483.1 466.1 487.5 467.2 491.5 464.8M466.8 469.9 471.2 470.2 473.2 470.2 478.7 470.2 480.5 466.7M465.4 474.6 468.8 473.2 473.2 472.9 476.9 471.6 480.2 472.9 480.2 475.1M487.5 467.2 486.4 470.2 485.3 472.4 480.2 472.9M487.5 468.8 491.5 469.4 498.5 467.8 499.9 466.1M485.3 472.4 487.5 474.8 491.5 474.6 494.1 474.0 497.4 473.8 500.5 469.1M494.8 474.0 497.4 477.6 500.1 479.2 505.2 480.6 509.6 479.5 513.1 480.6M500.5 469.1 508.7 468.0 512.2 472.9 512.2 475.7 515.3 476.5M511.8 485.2 508.5 487.1 503.0 486.6 499.7 487.4 500.1 483.8 500.1 479.2M508.5 487.1 507.8 488.5M480.0 475.7 484.6 473.8 486.4 472.9M484.9 476.5 491.9 477.0 492.8 479.2 492.4 481.1 490.8 483.8M492.4 481.1 495.2 483.8 496.3 484.7 499.7 484.4M492.8 485.7 495.5 488.2 496.3 488.7 500.5 487.1 499.7 487.4M501.9 457.9 501.9 452.8 505.2 452.0 508.5 448.1 512.2 446.8 518.2 448.1 520.2 453.0 522.2 454.4 518.4 457.7 517.3 459.9 509.6 459.0 503.0 459.0 501.9 457.9M520.2 457.7 525.0 457.1 528.3 462.0 533.9 463.4 538.3 464.8 537.6 469.4 534.3 471.3M508.7 468.0 511.8 467.5 515.1 469.4 516.2 472.9 512.2 475.7M496.3 446.8 508.7 447.9M498.3 442.7 503.6 441.9 510.5 442.7M511.8 437.5 511.1 442.1 512.2 446.8M497.0 449.2 500.3 451.4M511.8 434.8 515.5 432.6 519.5 428.2 515.1 423.9 516.2 419.8 514.0 411.6 512.9 409.4M503.0 420.3 502.3 415.7 496.3 410.8M496.3 410.8 505.2 412.7 509.6 408.9 512.9 409.4 518.0 409.4M475.2 438.9 477.6 433.4 476.5 428.0 480.9 423.9 485.3 415.7 489.7 413.0 494.1 411.6 496.3 410.8M554.8 475.7 553.9 464.8 553.3 463.4 557.0 458.8 562.1 458.8 567.0 459.3 572.5 461.8 580.2 461.5 585.0 461.2 584.6 457.4 582.4 457.4 584.6 452.8 592.3 451.7 602.3 449.0 606.7 452.5 612.2 452.5 618.8 452.0 622.1 454.4 628.1 459.9 634.3 460.7 638.7 464.5 642.6 465.9M642.6 465.9 639.8 467.5 638.7 471.6 633.2 471.6 632.1 475.7 626.5 477.0 627.2 482.5 627.0 484.7M627.0 484.7 622.1 482.7 616.6 483.0 613.3 481.9 606.7 484.4 601.2 488.5 595.6 485.2 584.6 478.7 579.1 475.7 573.6 477.0 573.6 487.1 567.0 484.7M573.6 487.1 582.4 486.6 587.9 491.2 594.5 498.0 596.7 497.7M568.9 498.0 576.2 495.6 583.5 499.9 585.0 502.6 589.0 502.1 593.0 498.6 596.7 497.7M596.7 497.7 600.1 498.8 604.5 497.2 607.8 496.4 615.3 498.3M599.6 492.0 604.5 491.7 612.4 492.0 615.5 490.6M627.0 484.7 622.1 487.9 617.7 489.6 615.3 494.7 612.4 492.0M615.3 498.3 607.8 501.5 606.7 507.0 603.4 509.7 602.9 513.5 596.7 517.9 596.7 519.5 586.8 519.5 584.4 518.4M584.4 518.4 586.2 514.4 584.2 508.6 585.0 502.6M584.4 518.4 588.6 523.3 585.9 531.0M621.7 502.9 613.3 505.6 615.5 511.1 614.4 515.2 612.2 518.2 606.2 524.2 604.5 527.2 605.1 530.2 601.2 535.1M615.3 498.3 621.7 502.9 625.4 509.7 623.9 513.8 627.0 515.7 629.0 517.4M626.8 521.2 629.0 517.4 634.3 519.8 639.8 523.6 644.4 523.6 644.6 527.7 638.7 527.2 633.8 525.0 626.8 521.2M646.0 525.8 648.6 522.8 653.0 523.9 653.2 526.6 646.0 525.8M653.0 523.9 658.5 520.1 662.9 522.0 664.7 522.8 660.1 527.4 657.9 534.5 655.9 539.7 653.7 542.4M645.7 540.5 646.0 533.7 644.4 532.9 646.4 528.8 653.0 531.0 653.7 533.4 651.9 537.0 653.7 542.4M643.7 465.6 649.7 462.0 654.1 461.2 659.6 463.4 666.3 457.9 675.1 459.3 683.9 462.6 689.4 465.3 697.1 464.8 702.7 462.9 707.5 463.9 709.1 472.7 713.7 472.9 714.1 471.0 706.0 475.7 699.4 477.8 694.9 480.8 692.7 483.6 686.1 485.2 681.7 486.3 670.7 483.6 662.5 483.3 660.3 479.2 655.2 477.0 650.4 476.2 649.3 471.6 645.7 468.3 643.7 465.6M707.5 463.9 709.9 464.8 713.7 462.3 717.0 454.4 726.9 455.2 731.4 463.4 739.1 469.4 747.9 467.8 745.7 477.0 743.5 477.0 739.1 477.3 739.1 483.0 738.0 483.8M724.3 490.9 728.0 487.9 733.1 485.2 736.9 482.7 738.0 484.4M728.3 496.9 730.2 495.6 733.3 494.5M664.7 522.8 667.8 524.7 666.7 531.5 669.6 539.2 673.3 541.1 675.5 538.6 678.4 538.1 682.4 536.2 685.5 537.5 688.3 540.8M670.9 544.1 673.3 541.1M670.9 544.1 666.7 546.0 665.8 549.2 668.2 554.7 667.4 561.5 668.9 569.7 667.6 572.4M670.9 544.1 673.3 546.5 672.9 551.4 677.3 550.1 681.3 556.0 682.8 560.4 677.3 560.7 676.0 562.6 675.7 567.0M682.8 560.4 687.2 559.9 684.1 569.4 680.6 571.3M675.5 538.6 679.5 542.7 681.7 549.2 687.2 556.0 687.2 559.9M670.9 582.2 674.0 583.8 675.3 582.8M529.4 501.0 531.6 499.6 538.3 499.1 543.3 498.6 541.1 500.7 540.5 505.9 535.6 508.6 529.4 510.8M529.2 505.4 530.8 506.5 528.8 509.2 528.3 513.8 527.2 519.3M525.5 514.4 527.0 519.3M543.3 498.6 548.9 498.3 551.5 502.4 550.2 507.0 554.8 509.7 555.3 515.2 557.0 517.9M535.6 508.6 536.5 511.9 542.7 514.9 548.6 520.1 552.6 520.4 555.3 522.0 556.8 522.0M536.5 511.9 531.6 513.8 533.9 517.9 530.5 519.3 527.2 519.5M541.8 486.6 546.0 487.7 548.9 491.5 548.0 495.0 548.9 498.3M538.0 481.4 543.8 481.7 552.6 485.5 557.2 485.7M548.9 491.5 552.6 493.6 555.9 493.9 557.9 495.0M544.4 555.0 548.2 552.2 553.7 553.3 564.7 547.9 572.9 539.7 571.8 537.8 564.7 534.2M564.7 547.9 567.2 554.4M571.8 537.8 574.5 531.8M546.0 487.7 552.6 485.5M446.2 504.0 447.4 512.2 441.8 513.3 430.8 521.4 430.8 525.3M430.8 524.2 420.9 524.2M430.8 525.3 430.8 528.8 423.5 528.8 423.5 535.6 421.1 537.5 421.3 541.6 412.5 541.6M469.0 499.1 468.1 505.4 466.6 508.4 471.0 517.4 472.1 530.7 476.5 535.6M475.4 509.5 472.1 515.2 471.0 517.4M476.5 535.6 462.6 546.8 459.3 547.3 457.1 547.9 452.6 543.2 439.4 531.5 430.8 525.3M439.4 531.5 436.8 556.0 424.8 557.7 423.1 559.6M505.2 513.5 505.2 539.7 531.4 539.7M505.2 539.7 505.2 545.1 503.0 546.5 484.2 537.0 480.9 538.1 476.5 535.6M480.9 538.1 484.2 543.2 484.6 545.4 484.2 554.7 479.8 561.5 480.0 562.9 476.5 563.4 473.2 563.1 467.7 563.4 459.3 562.9 457.9 567.8 455.3 567.0 452.2 564.2 450.7 559.3M459.3 547.3 459.3 554.7 457.7 558.0 452.6 558.5 450.7 559.3M503.0 546.5 502.7 556.9 499.4 561.5 499.7 565.3 498.1 570.2 491.5 575.1 484.2 579.2 481.8 572.4 483.1 567.0 482.0 564.2 479.8 561.5M501.9 574.3 508.5 573.8 516.2 572.4 523.3 571.6 525.0 573.8M535.2 550.6 530.3 554.4 530.3 560.7 527.9 565.0 525.5 570.8 525.0 573.8M525.0 573.8 523.3 576.5 527.2 581.9 529.2 587.1 524.8 589.0 522.8 590.1 518.2 590.1 515.8 587.4 510.5 585.8 506.3 580.6 503.0 575.9 501.9 574.3 498.1 570.2M530.3 560.7 535.0 560.4 539.4 560.1 543.3 565.6 544.9 569.7 547.1 575.1 555.9 577.8 549.3 586.0 542.7 588.8 540.5 588.8 536.1 590.1 529.2 587.1M540.5 588.8 540.5 604.3M536.5 612.2 533.2 608.1 524.8 602.4M524.8 602.4 525.0 596.9 527.2 594.2 524.8 589.0M515.3 603.5 517.7 602.4 524.8 602.4M515.3 603.5 516.0 596.9 518.8 593.4 518.2 590.1M517.3 606.2 514.7 611.9M539.1 628.0 532.8 631.3 527.2 631.0 526.1 625.8 522.8 625.3 518.8 623.1M517.3 622.3 513.8 622.8 512.9 629.6 515.1 633.2 510.7 632.9 506.3 629.6 503.0 629.6 498.5 629.6 498.5 624.2 496.3 618.7 488.6 621.5 485.3 616.0 477.1 616.0M476.9 615.5 478.7 612.7 485.3 607.8 488.0 602.4 489.7 594.2 491.0 588.8 494.1 587.4 499.7 588.2 505.2 586.0 510.5 585.8M484.2 579.2 482.0 587.4 485.7 593.7 491.0 588.8M468.8 587.1 471.0 581.9 475.4 581.1 479.3 572.4 482.0 565.6 481.3 564.2M456.0 582.2 456.2 575.1 457.9 567.8M471.6 593.4 474.9 593.7 479.3 593.7 485.7 593.7M474.9 593.7 479.3 593.7 482.0 601.0 480.9 606.5 474.7 610.5M413.6 556.0 419.1 554.4 423.1 559.6 424.8 565.9 430.1 566.4 431.2 569.7M437.9 571.3 438.3 567.5 440.5 563.7 445.6 559.3 450.7 559.3M444.0 573.5 444.0 569.7 450.0 569.7 452.2 569.1 455.3 567.0M443.2 585.8 444.0 573.5M433.5 587.7 431.2 578.9 431.9 572.1 437.9 571.3 444.0 573.5M452.6 583.0 451.1 577.8 450.0 569.7M453.5 582.8 453.5 575.1 452.0 569.7M420.7 574.6 425.3 572.4 427.1 576.5 424.6 580.8M413.1 565.9 419.8 565.3 419.8 567.2 416.9 569.9M476.0 646.8 479.8 647.1 490.8 647.1 496.3 648.7 501.6 647.6M498.5 629.6 503.0 629.6 503.0 635.1 498.5 635.1 498.5 643.8 501.6 647.6M496.3 649.5 496.3 659.6 494.1 659.6 494.1 667.2 494.1 677.0 486.4 677.6M494.1 667.2 499.7 670.5 506.3 669.7 509.6 665.0 514.9 660.1M514.9 660.1 510.7 655.5 505.8 648.2M505.8 648.2 511.8 644.6 517.1 642.2M517.1 642.2 522.6 645.2 522.6 651.4 521.1 658.2 519.1 660.7M519.1 660.7 520.6 665.6 522.6 672.7M517.1 642.2 522.8 637.8 523.3 633.7 522.8 625.3M526.1 638.6 529.0 643.2 527.9 646.2 525.0 640.5M510.7 679.8 512.9 677.6 514.9 680.0 512.9 683.0 510.7 679.8M501.6 647.6 505.8 648.2M198.4 436.0 199.3 433.1M198.4 457.5 198.4 454.8M237.0 463.6 235.4 463.6 234.2 464.7 234.7 465.8 236.3 465.8 237.4 464.7 237.0 463.6M193.7 442.2 191.6 442.0M300.1 463.4 299.8 460.4M229.2 442.0 227.8 442.3 226.3 443.5 226.3 444.6 227.6 444.4 229.1 443.1 229.2 442.0M241.3 428.5 240.0 428.2 238.4 428.9 238.2 429.9 239.5 430.2 241.1 429.5 241.3 428.5M190.9 464.5 188.7 462.7M304.3 438.8 306.8 438.5M220.8 427.0 215.5 426.4M290.8 462.8 292.7 461.1M249.2 460.8 248.1 460.9 247.5 461.9 247.9 462.6 249.0 462.5 249.7 461.6 249.2 460.8M286.0 447.0 286.6 443.9M304.7 466.0 302.5 465.5M287.9 436.6 286.6 436.1 285.0 436.7 284.8 437.8 286.1 438.3 287.6 437.7 287.9 436.6M282.4 465.7 281.2 466.3 280.7 467.7 281.4 468.7 282.7 468.1 283.2 466.6 282.4 465.7M289.2 428.0 291.1 427.5M205.9 458.6 205.5 457.5M293.9 467.6 293.4 464.5M221.2 459.8 221.6 460.9 223.3 461.4 224.6 460.9 224.2 459.8 222.5 459.3 221.2 459.8M293.5 461.8 290.9 459.0M210.3 465.3 209.3 465.3 208.6 465.9 208.9 466.6 209.9 466.7 210.6 466.1 210.3 465.3M195.5 461.3 199.2 461.1M240.4 462.9 242.5 460.7M307.4 457.3 312.7 457.2M293.3 441.3 293.7 442.0 295.2 442.4 296.2 442.2 295.7 441.5 294.3 441.1 293.3 441.3M299.2 465.0 299.1 465.9 300.0 467.1 301.1 467.4 301.2 466.5 300.3 465.3 299.2 465.0M229.6 435.7 228.5 435.6 227.0 436.2 226.5 437.0 227.7 437.1 229.2 436.5 229.6 435.7M204.1 450.9 202.5 450.7 201.0 451.7 201.1 452.9 202.7 453.1 204.2 452.1 204.1 450.9M235.3 438.3 234.4 439.5 235.2 441.2 236.8 441.7 237.6 440.6 236.9 438.9 235.3 438.3M267.1 461.1 268.2 461.7 270.3 461.8 271.4 461.4 270.4 460.9 268.3 460.8 267.1 461.1M308.9 431.8 308.6 432.6 309.3 433.7 310.3 434.0 310.6 433.2 310.0 432.1 308.9 431.8M260.7 463.3 261.0 464.2 262.2 464.5 263.2 463.9 262.9 463.0 261.7 462.7 260.7 463.3M290.6 439.6 289.0 439.7 287.1 441.0 286.9 442.2 288.5 442.1 290.4 440.8 290.6 439.6M225.2 446.4 224.3 445.2M291.6 464.0 290.5 462.6M297.8 463.3 297.1 464.3 297.5 466.1 298.7 466.8 299.5 465.8 299.0 464.0 297.8 463.3M298.7 441.4 297.4 441.4 296.9 442.2 297.5 443.0 298.8 443.0 299.4 442.2 298.7 441.4M235.8 452.5 233.4 451.9M195.2 457.0 195.9 458.0 197.5 458.1 198.5 457.3 197.8 456.3 196.2 456.1 195.2 457.0M206.9 435.4 212.4 433.9M193.8 429.5 195.9 426.8M201.9 462.6 200.8 462.0 199.7 462.3 199.8 463.4 200.9 464.1 202.0 463.7 201.9 462.6M199.8 446.2 201.6 445.8M305.3 447.6 304.3 446.9 302.6 446.9 301.7 447.7 302.6 448.4 304.4 448.4 305.3 447.6M294.3 437.4 296.6 436.9M219.2 438.1 218.3 438.6 217.5 439.9 217.7 440.7 218.7 440.3 219.5 438.9 219.2 438.1M213.8 429.4 216.9 426.5M196.6 433.7 195.4 433.3 193.1 433.6 192.1 434.3 193.3 434.6 195.6 434.4 196.6 433.7M231.1 428.6 231.3 425.9M203.8 432.2 202.1 431.9M222.2 436.3 225.8 436.1M279.7 463.2 277.9 462.6M251.7 461.9 248.2 459.5M306.1 457.0 307.3 456.3M238.3 451.0 237.4 451.6 237.2 453.1 237.9 453.8 238.8 453.2 239.0 451.8 238.3 451.0M211.9 441.2 210.8 439.9M305.5 451.4 305.6 452.7 307.3 454.3 309.1 454.7 309.0 453.4 307.2 451.7 305.5 451.4M222.6 426.4 221.6 427.5 222.0 429.4 223.3 430.3 224.3 429.2 224.0 427.2 222.6 426.4M232.7 426.6 237.9 425.4M217.4 454.3 216.3 451.2M308.6 456.2 311.4 455.0M270.6 464.5 268.0 461.3M304.4 465.1 305.0 466.2 306.8 466.5 308.1 465.8 307.5 464.7 305.6 464.3 304.4 465.1M233.5 428.6 233.9 429.4 235.4 430.1 236.5 430.0 236.2 429.1 234.7 428.5 233.5 428.6M291.4 463.9 293.8 462.7M236.1 457.4 237.0 456.3M247.3 424.9 247.6 425.9 249.1 426.8 250.4 426.8 250.2 425.8 248.6 424.9 247.3 424.9M199.4 450.9 201.4 450.6M202.0 460.4 200.6 459.6 197.8 459.7 196.5 460.7 197.9 461.6 200.7 461.4 202.0 460.4M212.5 456.6 213.4 457.3 215.3 457.4 216.3 456.9 215.5 456.3 213.5 456.1 212.5 456.6M204.2 442.0 202.5 442.0M306.9 445.0 306.1 446.0 305.9 447.9 306.5 448.9 307.3 448.0 307.4 446.0 306.9 445.0M235.8 445.6 234.4 446.1 234.3 447.4 235.5 448.1 236.9 447.6 237.0 446.3 235.8 445.6M299.6 442.6 300.0 443.5 301.3 443.7 302.2 443.0 301.8 442.2 300.5 442.0 299.6 442.6M231.8 467.2 225.8 467.0M301.5 446.3 301.1 447.2 301.6 448.6 302.6 449.2 303.0 448.3 302.5 446.9 301.5 446.3M194.1 452.4 192.5 451.4M295.5 465.3 300.3 463.4M200.7 434.7 199.9 434.1 198.3 434.2 197.5 434.8 198.3 435.5 200.0 435.4 200.7 434.7M301.2 448.7 300.4 448.3 299.3 448.6 299.1 449.4 300.0 449.8 301.0 449.5 301.2 448.7M234.8 461.8 234.6 462.7 235.6 464.0 236.7 464.4 236.8 463.5 235.9 462.2 234.8 461.8M226.0 462.7 224.2 461.8M240.3 462.1 237.4 459.8M206.7 434.5 204.4 433.8M296.8 438.4 293.9 437.5M212.4 453.6 212.3 454.2 213.1 454.9 214.0 454.9 214.1 454.3 213.3 453.6 212.4 453.6M216.9 446.5 215.9 447.0 216.0 447.8 217.0 448.2 217.9 447.7 217.8 446.9 216.9 446.5M231.2 454.1 231.2 455.3 232.7 456.3 234.3 456.2 234.3 455.0 232.7 454.0 231.2 454.1M300.5 467.7 299.6 467.3M266.9 465.1 265.7 463.9M193.9 454.2 193.0 453.3M296.9 449.7 295.9 449.1 294.8 449.5 294.8 450.4 295.8 451.0 296.9 450.6 296.9 449.7M195.6 464.8 196.2 465.8 197.8 466.1 198.9 465.3 198.3 464.3 196.7 464.0 195.6 464.8M189.9 426.1 189.5 425.0M199.1 450.8 198.6 449.5M208.3 465.4 207.9 464.3M204.2 452.1 202.9 452.5 202.4 453.9 203.2 454.8 204.6 454.4 205.1 453.0 204.2 452.1M226.4 453.5 227.0 452.5M236.1 427.8 236.6 428.9 238.7 429.9 240.3 429.8 239.8 428.7 237.7 427.7 236.1 427.8M190.0 442.4 191.7 439.4M234.1 415.2 234.3 416.2 235.5 416.5 236.4 415.7 236.1 414.7 235.0 414.5 234.1 415.2M184.3 417.7 183.5 418.2 183.5 419.2 184.4 419.7 185.3 419.2 185.2 418.2 184.3 417.7M177.6 424.5 177.1 423.8M207.3 423.1 208.1 424.1 210.5 425.2 212.1 425.2 211.2 424.2 208.8 423.2 207.3 423.1M222.5 427.7 221.6 428.4 221.8 429.6 222.9 430.2 223.8 429.5 223.6 428.2 222.5 427.7M213.9 425.6 212.9 426.3 212.2 428.1 212.5 429.1 213.6 428.4 214.3 426.6 213.9 425.6M205.4 420.8 204.0 418.0M221.7 413.4 219.3 412.8M206.5 425.8 210.7 424.3M177.4 418.0 180.3 417.8M215.3 427.4 219.2 427.1M227.5 424.3 226.3 421.5M208.0 410.1 206.3 410.4 205.0 411.9 205.4 413.1 207.1 412.9 208.4 411.4 208.0 410.1M207.0 414.9 205.9 414.8 204.2 415.3 203.7 416.1 204.8 416.3 206.5 415.7 207.0 414.9M216.4 417.4 214.4 414.7M232.0 418.6 229.2 417.9M185.1 428.5 185.8 429.6 188.0 430.0 189.3 429.2 188.5 428.1 186.4 427.8 185.1 428.5M223.9 409.0 224.3 409.7 225.5 409.8 226.3 409.4 225.8 408.7 224.6 408.5 223.9 409.0M213.4 410.9 218.6 410.8M217.6 428.2 222.3 427.7M195.6 423.4 201.7 423.0M239.0 411.2 238.1 412.0 237.8 413.6 238.4 414.5 239.3 413.8 239.6 412.1 239.0 411.2M199.5 413.4 200.8 410.0M191.7 425.0 195.6 425.0M190.5 420.3 187.6 420.2M229.1 420.3 228.6 419.6M226.0 425.5 225.0 424.7 223.5 424.9 223.0 425.9 223.9 426.6 225.4 426.5 226.0 425.5M203.9 419.7 205.2 418.4M223.1 428.1 224.0 425.5M192.2 422.6 191.8 421.6M238.6 425.2 238.7 424.3M237.5 419.4 239.5 418.4M231.0 418.8 230.0 419.8 229.9 421.8 230.8 422.9 231.8 421.9 231.9 419.8 231.0 418.8M197.7 412.5 196.4 412.8 194.9 414.0 194.5 415.0 195.8 414.7 197.4 413.4 197.7 412.5M204.2 426.1 203.9 425.1M234.4 424.9 236.2 422.6M175.9 414.9 176.4 416.1 178.5 417.1 180.2 417.0 179.6 415.9 177.5 414.9 175.9 414.9M187.1 425.6 186.0 423.3M220.7 427.5 222.3 424.6M188.9 411.0 189.3 409.5M193.4 423.9 192.9 424.7 193.6 425.6 194.8 425.7 195.2 424.9 194.6 424.0 193.4 423.9M201.6 420.6 200.4 420.3 199.6 420.9 199.9 421.8 201.1 422.1 201.9 421.5 201.6 420.6M221.6 426.1 225.0 424.9M189.4 420.0 192.6 417.8M199.0 414.3 197.9 415.5 198.2 417.5 199.5 418.5 200.6 417.3 200.3 415.3 199.0 414.3M249.4 393.2 252.1 392.3M208.2 381.8 208.3 382.6 209.5 383.0 210.4 382.7 210.2 381.9 209.1 381.5 208.2 381.8M280.9 400.9 279.2 400.2M296.2 390.2 295.1 389.8 294.1 390.3 294.3 391.3 295.5 391.7 296.4 391.1 296.2 390.2M247.3 390.1 249.0 388.8M311.2 410.0 311.5 411.0 313.2 412.0 314.5 412.1 314.2 411.1 312.5 410.1 311.2 410.0M230.5 382.9 229.7 382.4M186.5 384.5 185.7 385.1 186.1 386.0 187.2 386.3 188.0 385.6 187.6 384.7 186.5 384.5M235.3 386.4 233.7 386.4 232.4 387.6 232.8 388.7 234.4 388.8 235.7 387.6 235.3 386.4M216.8 389.3 221.7 387.6M199.9 388.4 200.2 389.2 201.7 389.6 202.8 389.2 202.4 388.3 200.9 387.9 199.9 388.4M306.5 386.5 307.1 385.9M258.2 405.3 257.3 406.2 257.9 407.3 259.3 407.6 260.2 406.7 259.7 405.6 258.2 405.3M206.7 409.7 205.6 409.2 204.5 409.7 204.5 410.6 205.6 411.0 206.7 410.6 206.7 409.7M283.7 388.3 282.7 388.8 282.3 390.2 283.0 391.0 284.0 390.4 284.4 389.1 283.7 388.3M256.9 407.4 255.4 406.9 253.6 407.5 253.3 408.7 254.8 409.2 256.6 408.5 256.9 407.4M223.5 400.7 222.9 401.7 223.3 403.3 224.4 404.0 225.0 403.0 224.6 401.4 223.5 400.7M196.8 406.2 194.0 403.7M215.6 385.7 213.8 385.6 211.7 386.8 211.3 388.1 213.1 388.2 215.3 387.0 215.6 385.7M249.9 401.5 248.9 398.8M275.0 409.5 273.7 410.3 272.9 412.3 273.5 413.5 274.8 412.7 275.6 410.7 275.0 409.5M224.5 386.3 225.5 384.0M293.2 407.0 293.5 408.2 295.0 408.6 296.3 408.0 296.1 406.8 294.5 406.4 293.2 407.0M307.0 395.7 305.9 395.8 305.3 396.6 305.9 397.3 307.0 397.2 307.5 396.4 307.0 395.7M261.5 413.5 260.5 413.4 259.4 414.0 259.1 414.7 260.1 414.8 261.3 414.3 261.5 413.5M203.0 401.8 201.9 401.3 200.7 401.7 200.6 402.6 201.6 403.1 202.8 402.7 203.0 401.8M283.9 402.6 288.2 402.6M298.7 390.2 297.7 390.9 298.1 391.7 299.4 391.9 300.3 391.2 300.0 390.3 298.7 390.2M255.8 405.2 258.0 404.7M212.3 413.4 213.3 411.9M254.8 398.8 255.5 399.5 257.1 399.6 257.9 399.0 257.2 398.3 255.7 398.2 254.8 398.8M195.3 390.1 193.4 389.1M256.7 408.3 255.1 405.8M310.0 383.2 309.1 383.7 308.6 385.0 309.0 385.8 310.0 385.3 310.4 384.0 310.0 383.2M199.8 387.7 201.4 387.6M256.1 399.5 256.6 400.3 258.2 401.1 259.4 401.2 259.0 400.3 257.3 399.5 256.1 399.5M271.9 383.0 271.9 384.2 273.5 384.9 274.9 384.5 274.9 383.4 273.3 382.6 271.9 383.0M292.3 394.1 291.5 395.0 292.1 395.8 293.5 395.7 294.3 394.9 293.7 394.1 292.3 394.1M219.6 381.9 224.7 381.9M191.9 393.8 189.2 391.5M270.9 391.0 273.1 387.5M218.5 382.6 220.5 381.1M285.4 404.1 289.3 403.9M280.7 406.6 276.5 405.0M281.6 390.7 280.6 391.7 281.0 393.3 282.3 394.0 283.3 393.0 282.9 391.4 281.6 390.7M282.7 411.6 286.0 408.6M207.2 399.5 202.7 397.6M200.5 407.0 199.3 406.3 196.9 406.4 195.9 407.3 197.1 408.1 199.4 407.9 200.5 407.0M241.1 385.8 242.8 385.3M254.8 410.7 250.8 410.0M231.7 394.7 234.2 394.4M260.6 397.3 263.1 397.0M308.4 387.2 307.0 386.8 304.5 387.2 303.4 387.9 304.8 388.2 307.3 387.9 308.4 387.2M215.3 406.7 212.8 405.0M195.6 412.9 194.3 412.5M264.5 406.1 263.1 406.5 261.2 408.0 260.7 409.1 262.1 408.6 264.0 407.1 264.5 406.1M207.0 393.1 206.2 392.8 205.1 393.1 204.7 393.7 205.6 394.1 206.7 393.7 207.0 393.1M253.6 386.6 255.6 385.2M267.7 391.4 269.2 390.0M302.1 400.7 300.3 400.7M518.9 422.6 518.3 422.0M513.8 422.5 513.4 421.4M512.3 420.3 511.0 420.4 508.9 421.3 508.1 422.2 509.5 422.1 511.6 421.2 512.3 420.3M501.9 429.5 501.0 430.1 500.4 431.6 500.7 432.4 501.5 431.8 502.2 430.4 501.9 429.5M508.3 428.3 507.1 427.9 505.7 428.5 505.6 429.4 506.8 429.8 508.1 429.2 508.3 428.3M505.9 410.9 504.5 411.3 502.5 412.7 502.0 413.8 503.4 413.4 505.4 411.9 505.9 410.9M497.3 432.4 497.5 433.4 498.9 434.7 500.1 435.1 499.9 434.2 498.5 432.8 497.3 432.4M511.9 425.7 510.6 425.3 509.2 425.9 509.1 426.9 510.3 427.3 511.7 426.8 511.9 425.7M519.3 430.0 518.0 429.6 516.1 430.2 515.5 431.1 516.8 431.5 518.7 430.9 519.3 430.0M515.4 424.6 515.2 425.8 516.7 426.8 518.3 426.7 518.4 425.5 516.9 424.5 515.4 424.6M511.9 426.4 511.0 425.8 509.4 425.9 508.6 426.6 509.5 427.2 511.2 427.1 511.9 426.4M508.7 427.0 507.5 427.1 506.6 427.9 506.8 428.8 508.0 428.8 508.9 427.9 508.7 427.0M518.6 427.4 517.6 423.9M513.9 420.1 513.5 420.7 513.8 421.5 514.6 421.8 515.1 421.2 514.7 420.4 513.9 420.1M514.2 421.0 513.1 420.7 511.0 420.9 510.1 421.4 511.2 421.8 513.2 421.6 514.2 421.0M516.2 434.8 518.8 433.6M512.8 413.0 511.5 412.3 508.9 412.5 507.8 413.4 509.2 414.1 511.7 413.9 512.8 413.0M517.1 415.3 515.9 414.7M513.3 416.8 514.3 417.5 516.6 417.9 517.9 417.6 517.0 416.8 514.6 416.4 513.3 416.8M513.7 433.8 512.8 434.2 512.0 435.3 512.3 436.1 513.3 435.7 514.0 434.6 513.7 433.8M519.0 418.2 517.4 416.1M505.3 418.6 504.5 417.8 503.4 418.1 503.2 419.1 504.1 419.9 505.1 419.6 505.3 418.6M505.9 413.0 503.5 410.7M517.7 430.6 519.1 431.1 521.8 431.2 523.2 430.7 521.8 430.2 519.1 430.1 517.7 430.6M507.5 416.8 510.6 414.6M512.1 430.8 511.9 432.2 513.6 433.9 515.5 434.1 515.7 432.7 514.0 431.0 512.1 430.8M506.3 412.8 504.8 412.6M518.4 416.3 521.2 415.6M508.5 426.3 507.3 425.8 505.6 426.2 505.0 427.1 506.2 427.6 507.9 427.2 508.5 426.3M518.4 435.5 520.9 432.5M503.1 419.1 501.8 418.7 499.7 419.1 498.9 420.0 500.2 420.5 502.3 420.0 503.1 419.1M509.3 431.6 510.4 430.2M508.1 423.0 507.6 420.3M509.8 421.7 509.1 422.5 509.7 423.5 510.9 423.8 511.5 423.0 511.0 422.0 509.8 421.7M506.4 420.5 501.6 419.4M504.3 434.8 503.0 434.2 501.9 434.8 502.2 435.9 503.5 436.4 504.6 435.8 504.3 434.8M506.4 436.0 506.3 433.2M499.1 423.8 503.8 423.2M498.4 421.7 498.5 422.5 499.5 423.0 500.5 422.6 500.5 421.8 499.4 421.3 498.4 421.7M499.7 416.4 499.5 414.8M503.3 424.0 503.3 423.1M513.7 432.0 514.2 430.5M511.3 411.7 511.8 412.8 513.7 414.1 515.2 414.3 514.8 413.2 512.9 411.9 511.3 411.7M516.8 419.3 516.8 418.2M511.2 419.5 513.4 419.2M493.0 434.7 493.9 435.6 496.1 436.2 497.5 435.8 496.7 434.9 494.4 434.4 493.0 434.7M479.3 435.8 479.7 435.3M489.2 432.9 483.7 431.4M483.7 424.2 483.0 424.6 482.6 425.5 482.9 426.1 483.7 425.8 484.1 424.8 483.7 424.2M482.4 439.4 478.1 438.6M496.0 423.5 495.7 424.6 497.0 425.9 498.7 426.1 499.0 424.9 497.6 423.6 496.0 423.5M481.9 429.8 483.5 428.7M496.3 413.4 495.3 414.4 495.7 416.0 497.2 416.6 498.2 415.6 497.8 414.0 496.3 413.4M480.3 419.2 479.1 418.9M490.8 419.7 488.5 417.4M494.0 429.2 493.0 429.7 492.4 430.9 492.7 431.7 493.6 431.3 494.3 430.0 494.0 429.2M482.7 426.2 485.2 425.1M485.0 421.8 484.9 420.2M490.3 428.7 489.0 428.3 487.4 429.0 487.1 429.9 488.4 430.3 490.0 429.6 490.3 428.7M494.9 433.9 499.2 432.9M487.7 413.0 486.0 413.2 484.8 414.6 485.2 415.9 486.9 415.6 488.1 414.2 487.7 413.0M482.0 416.9 481.5 417.9 482.2 419.5 483.4 420.1 483.8 419.1 483.1 417.5 482.0 416.9M487.8 436.2 489.2 436.2M479.6 434.2 479.0 432.8M485.2 421.1 485.9 419.7M480.8 424.9 479.8 423.4M492.7 429.0 493.5 428.2M497.0 435.1 499.3 432.8M494.1 419.4 493.7 420.5 494.7 421.7 496.2 421.9 496.6 420.8 495.5 419.6 494.1 419.4M483.8 433.1 482.4 433.8 481.8 435.5 482.5 436.6 483.9 436.0 484.6 434.2 483.8 433.1M464.2 433.3 466.8 432.3M467.9 416.5 469.7 415.8M464.7 436.8 463.3 435.4M463.8 431.1 464.5 431.8 466.2 432.2 467.3 432.0 466.6 431.3 464.9 430.8 463.8 431.1M463.6 424.7 462.6 424.2 461.4 424.6 461.1 425.4 462.1 425.8 463.3 425.5 463.6 424.7M464.6 430.2 463.2 430.5 462.9 431.5 464.0 432.2 465.5 431.9 465.7 430.9 464.6 430.2M469.8 428.8 466.2 426.6M477.0 426.4 480.5 425.2M476.6 431.8 476.5 432.6 477.4 433.7 478.4 434.0 478.5 433.2 477.6 432.1 476.6 431.8M475.7 419.6 479.0 417.6M473.4 430.6 471.7 429.1M475.0 432.7 473.3 430.7M600.0 412.2 603.1 411.3M583.1 410.5 582.8 409.7M630.4 407.2 628.5 405.3M605.6 422.6 606.7 421.2M617.0 417.6 615.4 418.3 614.4 420.2 614.9 421.5 616.5 420.8 617.5 418.9 617.0 417.6M612.5 415.9 612.9 416.9 614.6 417.6 615.9 417.3 615.5 416.4 613.8 415.7 612.5 415.9M639.5 407.5 635.3 406.3M595.6 406.2 592.3 405.2M641.6 425.2 640.5 425.9 640.8 426.9 642.2 427.2 643.3 426.5 643.0 425.5 641.6 425.2M640.9 436.0 639.9 433.4M622.7 416.8 622.2 417.5 622.7 418.4 623.7 418.7 624.2 418.1 623.7 417.1 622.7 416.8M643.3 419.9 642.8 420.6 643.3 421.6 644.3 421.9 644.8 421.2 644.3 420.2 643.3 419.9M645.7 411.9 644.1 411.7 641.6 412.5 640.8 413.5 642.4 413.7 644.8 412.9 645.7 411.9M638.0 408.3 638.8 409.3 640.8 409.5 642.0 408.6 641.1 407.6 639.1 407.5 638.0 408.3M754.4 417.6 753.6 418.2 753.5 419.3 754.3 419.9 755.1 419.4 755.2 418.2 754.4 417.6M714.7 424.5 711.4 422.6M735.7 417.5 737.5 416.8M726.8 429.0 726.8 426.0M744.9 401.7 743.9 402.5 743.7 404.2 744.6 405.1 745.7 404.3 745.8 402.6 744.9 401.7M688.4 422.1 688.0 423.1 689.1 424.2 690.6 424.2 690.9 423.1 689.9 422.1 688.4 422.1M689.4 427.5 688.0 427.3 686.3 428.2 685.9 429.2 687.3 429.3 689.1 428.5 689.4 427.5M703.5 418.9 702.9 419.7 703.1 421.0 703.9 421.6 704.5 420.9 704.3 419.6 703.5 418.9M719.2 421.1 717.8 420.4 715.6 420.7 714.7 421.8 716.1 422.5 718.3 422.1 719.2 421.1M713.0 428.1 712.7 428.8 713.3 430.0 714.2 430.5 714.4 429.8 713.9 428.6 713.0 428.1M256.3 478.8 253.3 478.4M245.4 476.0 244.6 475.4 243.0 475.5 242.3 476.1 243.1 476.7 244.6 476.7 245.4 476.0M235.5 477.8 239.4 474.9M239.9 470.7 243.7 470.5M240.6 478.8 237.2 477.2M238.5 477.9 237.3 477.5 235.2 477.8 234.2 478.4 235.4 478.7 237.5 478.5 238.5 477.9M247.2 474.5 251.6 473.8M245.4 475.8 247.7 472.4M130.2 424.9 128.6 425.4 127.0 427.1 127.1 428.4 128.7 428.0 130.3 426.2 130.2 424.9M106.1 432.3 105.1 432.2M113.9 419.2 110.8 417.2M104.0 416.8 106.1 416.2M122.5 420.2 127.7 419.7M106.8 425.7 105.3 425.7 104.7 426.6 105.6 427.5 107.1 427.5 107.7 426.6 106.8 425.7M108.7 422.8 107.5 422.7 106.8 423.4 107.3 424.3 108.6 424.4 109.3 423.6 108.7 422.8M118.0 412.7 119.1 413.4 121.4 413.5 122.6 412.9 121.5 412.3 119.2 412.2 118.0 412.7M127.0 422.7 126.1 423.3 125.7 424.9 126.2 425.7 127.1 425.1 127.5 423.5 127.0 422.7M131.7 417.2 126.4 415.6M276.1 526.9 277.4 526.9M278.3 527.4 279.6 527.4M277.7 531.5 279.0 531.5M280.5 533.7 281.9 533.7M282.7 535.9 284.1 535.9M285.6 538.3 286.9 538.3M287.8 541.9 289.1 541.9M306.3 549.8 307.7 549.8M310.3 550.3 311.6 550.3M311.4 552.5 312.7 552.5M313.0 555.5 314.3 555.5M314.1 557.7 315.4 557.7M314.7 559.9 316.1 559.9M314.7 562.0 316.1 562.0M313.6 566.4 315.0 566.4M380.5 492.0 381.8 492.0M386.2 494.5 387.6 494.5M389.3 494.2 390.6 494.2M393.1 496.6 394.4 496.6M409.6 521.4 410.9 521.4M412.9 522.8 414.3 522.8M415.1 523.3 416.5 523.3M418.4 522.0 419.8 522.0M419.5 520.6 420.9 520.6M394.2 553.3 395.5 553.3M396.4 554.1 397.7 554.1M397.5 558.8 398.8 558.8M399.0 555.8 400.4 555.8M610.9 580.6 612.2 580.6M611.3 587.4 612.6 587.4M610.9 592.8 612.2 592.8M610.6 598.3 612.0 598.3M610.9 601.3 612.2 601.3M746.1 579.2 747.5 579.2M754.1 573.8 755.4 573.8M768.9 563.1 770.2 563.1M770.8 558.2 772.2 558.2M771.1 552.0 772.4 552.0M784.3 579.5 785.6 579.5M798.4 580.8 799.8 580.8M809.0 585.2 810.3 585.2M813.9 574.9 815.2 574.9M816.7 574.6 818.1 574.6M818.5 575.9 819.8 575.9M821.6 580.3 822.9 580.3M827.1 580.3 828.4 580.3M828.2 583.3 829.5 583.3M830.9 595.8 832.2 595.8M831.8 599.1 833.1 599.1M834.4 602.4 835.7 602.4M838.6 606.7 839.9 606.7M839.9 616.0 841.2 616.0M844.8 622.8 846.1 622.8M68.7 636.4 70.0 636.4M70.9 637.8 72.2 637.8M72.7 638.6 74.0 638.6M62.7 657.4 64.1 657.4M64.3 653.6 65.6 653.6M65.4 650.6 66.7 650.6M122.8 639.2 124.1 639.2M129.4 641.9 130.7 641.9M136.0 643.8 137.3 643.8M140.4 648.7 141.7 648.7M140.4 623.6 141.7 623.6M142.6 626.4 143.9 626.4M102.0 594.5 103.3 594.5M97.6 589.0 98.9 589.0M95.4 583.6 96.7 583.6M390.9 753.6 392.2 753.6M390.9 761.8 392.2 761.8M96.3 626.9 97.6 626.9M102.9 621.5 104.2 621.5M113.9 624.2 115.2 624.2M120.5 632.3 121.9 632.3M125.0 643.2 126.3 643.2M129.4 647.3 130.7 647.3M133.8 651.4 135.1 651.4M138.2 656.9 139.5 656.9M144.8 651.4 146.1 651.4M149.2 659.6 150.6 659.6M153.6 662.3 155.0 662.3M127.2 637.8 128.5 637.8M131.6 640.5 132.9 640.5M140.4 640.5 141.7 640.5M107.3 632.3 108.6 632.3M85.2 629.6 86.6 629.6M76.4 637.8 77.7 637.8M61.0 648.7 62.3 648.7M56.6 651.4 57.9 651.4M69.8 654.1 71.1 654.1M74.2 651.4 75.5 651.4M118.3 654.1 119.7 654.1M122.8 656.9 124.1 656.9M109.5 656.9 110.8 656.9M100.7 651.4 102.0 651.4M89.7 648.7 91.0 648.7M147.0 643.2 148.3 643.2M142.6 635.1 143.9 635.1M113.9 662.3 115.2 662.3M63.2 635.1 64.5 635.1M58.8 640.5 60.1 640.5"/>
</g>
<text x="119.2" y="433.3" font-size="10" fill="#000" font-family='"Liberation Sans",sans-serif' textLength="18.9" lengthAdjust="spacingAndGlyphs" stroke="#000" stroke-width="0.25">ANC</text>
<text x="177.5" y="422.5" font-size="10" fill="#000" font-family='"Liberation Sans",sans-serif' textLength="19.0" lengthAdjust="spacingAndGlyphs" stroke="#000" stroke-width="0.25">DLN</text>
<text x="101.7" y="542.0" font-size="10" fill="#000" font-family='"Liberation Sans",sans-serif' textLength="20.6" lengthAdjust="spacingAndGlyphs" stroke="#000" stroke-width="0.25">HON</text>
<text x="178.0" y="465.0" font-size="10" fill="#000" font-family='"Liberation Sans",sans-serif' textLength="19.0" lengthAdjust="spacingAndGlyphs" stroke="#000" stroke-width="0.25">VAN</text>
<text x="183.7" y="469.7" font-size="10" fill="#000" font-family='"Liberation Sans",sans-serif' textLength="15.6" lengthAdjust="spacingAndGlyphs" stroke="#000" stroke-width="0.25">STL</text>
<text x="236.4" y="463.7" font-size="10" fill="#000" font-family='"Liberation Sans",sans-serif' textLength="20.6" lengthAdjust="spacingAndGlyphs" stroke="#000" stroke-width="0.25">WNP</text>
<text x="244.7" y="478.7" font-size="10" fill="#000" font-family='"Liberation Sans",sans-serif' textLength="20.6" lengthAdjust="spacingAndGlyphs" stroke="#000" stroke-width="0.25">MNP</text>
<text x="274.7" y="480.8" font-size="10" fill="#000" font-family='"Liberation Sans",sans-serif' textLength="17.3" lengthAdjust="spacingAndGlyphs" stroke="#000" stroke-width="0.25">TNT</text>
<text x="283.0" y="476.7" font-size="10" fill="#000" font-family='"Liberation Sans",sans-serif' textLength="19.0" lengthAdjust="spacingAndGlyphs" stroke="#000" stroke-width="0.25">OTW</text>
<text x="257.2" y="485.8" font-size="10" fill="#000" font-family='"Liberation Sans",sans-serif' textLength="19.8" lengthAdjust="spacingAndGlyphs" stroke="#000" stroke-width="0.25">CHG</text>
<text x="286.4" y="489.2" font-size="10" fill="#000" font-family='"Liberation Sans",sans-serif' textLength="18.9" lengthAdjust="spacingAndGlyphs" stroke="#000" stroke-width="0.25">NYK</text>
<text x="218.7" y="491.7" font-size="10" fill="#000" font-family='"Liberation Sans",sans-serif' textLength="19.1" lengthAdjust="spacingAndGlyphs" stroke="#000" stroke-width="0.25">DNV</text>
<text x="251.0" y="494.7" font-size="10" fill="#000" font-family='"Liberation Sans",sans-serif' textLength="18.5" lengthAdjust="spacingAndGlyphs" stroke="#000" stroke-width="0.25">SLO</text>
<text x="179.7" y="497.2" font-size="10" fill="#000" font-family='"Liberation Sans",sans-serif' textLength="18.1" lengthAdjust="spacingAndGlyphs" stroke="#000" stroke-width="0.25">SFC</text>
<text x="197.2" y="501.7" font-size="10" fill="#000" font-family='"Liberation Sans",sans-serif' textLength="16.4" lengthAdjust="spacingAndGlyphs" stroke="#000" stroke-width="0.25">LVG</text>
<text x="188.0" y="507.2" font-size="10" fill="#000" font-family='"Liberation Sans",sans-serif' textLength="11.5" lengthAdjust="spacingAndGlyphs" stroke="#000" stroke-width="0.25">LA</text>
<text x="259.7" y="500.8" font-size="10" fill="#000" font-family='"Liberation Sans",sans-serif' textLength="18.9" lengthAdjust="spacingAndGlyphs" stroke="#000" stroke-width="0.25">NHV</text>
<text x="263.0" y="508.3" font-size="10" fill="#000" font-family='"Liberation Sans",sans-serif' textLength="14.0" lengthAdjust="spacingAndGlyphs" stroke="#000" stroke-width="0.25">ATL</text>
<text x="273.0" y="512.5" font-size="10" fill="#000" font-family='"Liberation Sans",sans-serif' textLength="15.6" lengthAdjust="spacingAndGlyphs" stroke="#000" stroke-width="0.25">HHI</text>
<text x="236.4" y="510.8" font-size="10" fill="#000" font-family='"Liberation Sans",sans-serif' textLength="18.1" lengthAdjust="spacingAndGlyphs" stroke="#000" stroke-width="0.25">DLS</text>
<text x="239.7" y="518.7" font-size="10" fill="#000" font-family='"Liberation Sans",sans-serif' textLength="19.8" lengthAdjust="spacingAndGlyphs" stroke="#000" stroke-width="0.25">HUS</text>
<text x="273.9" y="530.0" font-size="10" fill="#000" font-family='"Liberation Sans",sans-serif' textLength="16.4" lengthAdjust="spacingAndGlyphs" stroke="#000" stroke-width="0.25">MIM</text>
<text x="268.7" y="537.6" font-size="10" fill="#000" font-family='"Liberation Sans",sans-serif' textLength="18.6" lengthAdjust="spacingAndGlyphs" stroke="#000" stroke-width="0.25">HVN</text>
<text x="231.7" y="548.0" font-size="10" fill="#000" font-family='"Liberation Sans",sans-serif' textLength="20.6" lengthAdjust="spacingAndGlyphs" stroke="#000" stroke-width="0.25">MXC</text>
<text x="262.7" y="565.6" font-size="10" fill="#000" font-family='"Liberation Sans",sans-serif' textLength="19.6" lengthAdjust="spacingAndGlyphs" stroke="#000" stroke-width="0.25">NCG</text>
<text x="302.7" y="572.4" font-size="10" fill="#000" font-family='"Liberation Sans",sans-serif' textLength="19.6" lengthAdjust="spacingAndGlyphs" font-weight="bold" stroke="#000" stroke-width="0.25">CRC</text>
<text x="274.7" y="579.0" font-size="10" fill="#000" font-family='"Liberation Sans",sans-serif' textLength="20.6" lengthAdjust="spacingAndGlyphs" stroke="#000" stroke-width="0.25">PNC</text>
<text x="321.7" y="582.0" font-size="10" fill="#000" font-family='"Liberation Sans",sans-serif' textLength="18.6" lengthAdjust="spacingAndGlyphs" stroke="#000" stroke-width="0.25">GRT</text>
<text x="286.7" y="588.0" font-size="10" fill="#000" font-family='"Liberation Sans",sans-serif' textLength="18.6" lengthAdjust="spacingAndGlyphs" font-weight="bold" stroke="#000" stroke-width="0.25">BGT</text>
<text x="276.7" y="600.0" font-size="10" fill="#000" font-family='"Liberation Sans",sans-serif' textLength="19.6" lengthAdjust="spacingAndGlyphs" stroke="#000" stroke-width="0.25">QTO</text>
<text x="279.7" y="634.0" font-size="10" fill="#000" font-family='"Liberation Sans",sans-serif' textLength="19.6" lengthAdjust="spacingAndGlyphs" stroke="#000" stroke-width="0.25">LMA</text>
<text x="298.7" y="646.0" font-size="10" fill="#000" font-family='"Liberation Sans",sans-serif' textLength="19.6" lengthAdjust="spacingAndGlyphs" stroke="#000" stroke-width="0.25">LPZ</text>
<text x="365.7" y="636.4" font-size="10" fill="#000" font-family='"Liberation Sans",sans-serif' textLength="22.6" lengthAdjust="spacingAndGlyphs" stroke="#000" stroke-width="0.25">SLVD</text>
<text x="344.7" y="644.0" font-size="10" fill="#000" font-family='"Liberation Sans",sans-serif' textLength="24.6" lengthAdjust="spacingAndGlyphs" stroke="#000" stroke-width="0.25">BRSL</text>
<text x="355.7" y="663.0" font-size="10" fill="#000" font-family='"Liberation Sans",sans-serif' textLength="17.6" lengthAdjust="spacingAndGlyphs" stroke="#000" stroke-width="0.25">RDJ</text>
<text x="294.7" y="692.0" font-size="10" fill="#000" font-family='"Liberation Sans",sans-serif' textLength="18.6" lengthAdjust="spacingAndGlyphs" stroke="#000" stroke-width="0.25">STO</text>
<text x="321.7" y="695.0" font-size="10" fill="#000" font-family='"Liberation Sans",sans-serif' textLength="19.6" lengthAdjust="spacingAndGlyphs" stroke="#000" stroke-width="0.25">BNA</text>
<text x="533.7" y="448.0" font-size="10" fill="#000" font-family='"Liberation Sans",sans-serif' textLength="20.6" lengthAdjust="spacingAndGlyphs" stroke="#000" stroke-width="0.25">MCW</text>
<text x="450.7" y="460.0" font-size="10" fill="#000" font-family='"Liberation Sans",sans-serif' textLength="18.6" lengthAdjust="spacingAndGlyphs" stroke="#000" stroke-width="0.25">LND</text>
<text x="458.7" y="467.6" font-size="10" fill="#000" font-family='"Liberation Sans",sans-serif' textLength="18.6" lengthAdjust="spacingAndGlyphs" stroke="#000" stroke-width="0.25">PRS</text>
<text x="476.7" y="469.6" font-size="10" fill="#000" font-family='"Liberation Sans",sans-serif' textLength="20.6" lengthAdjust="spacingAndGlyphs" stroke="#000" stroke-width="0.25">MNC</text>
<text x="477.7" y="487.0" font-size="10" fill="#000" font-family='"Liberation Sans",sans-serif' textLength="20.6" lengthAdjust="spacingAndGlyphs" stroke="#000" stroke-width="0.25">ROM</text>
<text x="513.7" y="488.0" font-size="10" fill="#000" font-family='"Liberation Sans",sans-serif' textLength="14.6" lengthAdjust="spacingAndGlyphs" stroke="#000" stroke-width="0.25">IST</text>
<text x="442.7" y="490.4" font-size="10" fill="#000" font-family='"Liberation Sans",sans-serif' textLength="19.6" lengthAdjust="spacingAndGlyphs" stroke="#000" stroke-width="0.25">MDD</text>
<text x="456.7" y="500.4" font-size="10" fill="#000" font-family='"Liberation Sans",sans-serif' textLength="17.6" lengthAdjust="spacingAndGlyphs" stroke="#000" stroke-width="0.25">ALG</text>
<text x="433.7" y="509.6" font-size="10" fill="#000" font-family='"Liberation Sans",sans-serif' textLength="18.6" lengthAdjust="spacingAndGlyphs" stroke="#000" stroke-width="0.25">CSB</text>
<text x="479.7" y="511.0" font-size="10" fill="#000" font-family='"Liberation Sans",sans-serif' textLength="22.6" lengthAdjust="spacingAndGlyphs" stroke="#000" stroke-width="0.25">TRBT</text>
<text x="527.7" y="513.0" font-size="10" fill="#000" font-family='"Liberation Sans",sans-serif' textLength="14.6" lengthAdjust="spacingAndGlyphs" stroke="#000" stroke-width="0.25">TLV</text>
<text x="519.7" y="518.4" font-size="10" fill="#000" font-family='"Liberation Sans",sans-serif' textLength="19.6" lengthAdjust="spacingAndGlyphs" stroke="#000" stroke-width="0.25">CRO</text>
<text x="547.7" y="510.0" font-size="10" fill="#000" font-family='"Liberation Sans",sans-serif' textLength="26.6" lengthAdjust="spacingAndGlyphs" stroke="#000" stroke-width="0.25">BGDH</text>
<text x="562.7" y="503.6" font-size="10" fill="#000" font-family='"Liberation Sans",sans-serif' textLength="18.6" lengthAdjust="spacingAndGlyphs" stroke="#000" stroke-width="0.25">THN</text>
<text x="552.7" y="532.4" font-size="10" fill="#000" font-family='"Liberation Sans",sans-serif' textLength="19.6" lengthAdjust="spacingAndGlyphs" stroke="#000" stroke-width="0.25">RYH</text>
<text x="571.7" y="531.6" font-size="10" fill="#000" font-family='"Liberation Sans",sans-serif' textLength="20.6" lengthAdjust="spacingAndGlyphs" stroke="#000" stroke-width="0.25">DUB</text>
<text x="686.4" y="470.0" font-size="10" fill="#000" font-family='"Liberation Sans",sans-serif' textLength="18.3" lengthAdjust="spacingAndGlyphs" stroke="#000" stroke-width="0.25">UBT</text>
<text x="706.4" y="491.6" font-size="10" fill="#000" font-family='"Liberation Sans",sans-serif' textLength="19.5" lengthAdjust="spacingAndGlyphs" stroke="#000" stroke-width="0.25">BJG</text>
<text x="758.7" y="503.3" font-size="10" fill="#000" font-family='"Liberation Sans",sans-serif' textLength="17.2" lengthAdjust="spacingAndGlyphs" stroke="#000" stroke-width="0.25">TKY</text>
<text x="718.7" y="515.6" font-size="10" fill="#000" font-family='"Liberation Sans",sans-serif' textLength="19.4" lengthAdjust="spacingAndGlyphs" stroke="#000" stroke-width="0.25">SHG</text>
<text x="718.2" y="532.0" font-size="10" fill="#000" font-family='"Liberation Sans",sans-serif' textLength="19.1" lengthAdjust="spacingAndGlyphs" stroke="#000" stroke-width="0.25">TWN</text>
<text x="702.2" y="540.0" font-size="10" fill="#000" font-family='"Liberation Sans",sans-serif' textLength="20.1" lengthAdjust="spacingAndGlyphs" stroke="#000" stroke-width="0.25">HKG</text>
<text x="601.7" y="495.6" font-size="10" fill="#000" font-family='"Liberation Sans",sans-serif' textLength="19.6" lengthAdjust="spacingAndGlyphs" stroke="#000" stroke-width="0.25">DHB</text>
<text x="616.4" y="494.4" font-size="10" fill="#000" font-family='"Liberation Sans",sans-serif' textLength="24.9" lengthAdjust="spacingAndGlyphs" stroke="#000" stroke-width="0.25">WHG</text>
<text x="626.4" y="499.6" font-size="10" fill="#000" font-family='"Liberation Sans",sans-serif' textLength="18.3" lengthAdjust="spacingAndGlyphs" stroke="#000" stroke-width="0.25">HTN</text>
<text x="602.7" y="506.7" font-size="10" fill="#000" font-family='"Liberation Sans",sans-serif' textLength="15.6" lengthAdjust="spacingAndGlyphs" stroke="#000" stroke-width="0.25">KBL</text>
<text x="613.7" y="506.7" font-size="10" fill="#000" font-family='"Liberation Sans",sans-serif' textLength="18.6" lengthAdjust="spacingAndGlyphs" stroke="#000" stroke-width="0.25">SRN</text>
<text x="614.1" y="514.4" font-size="10" fill="#000" font-family='"Liberation Sans",sans-serif' textLength="18.2" lengthAdjust="spacingAndGlyphs" stroke="#000" stroke-width="0.25">LHR</text>
<text x="620.7" y="523.3" font-size="10" fill="#000" font-family='"Liberation Sans",sans-serif' textLength="17.6" lengthAdjust="spacingAndGlyphs" stroke="#000" stroke-width="0.25">NDL</text>
<text x="634.7" y="521.5" font-size="10" fill="#000" font-family='"Liberation Sans",sans-serif' textLength="16.6" lengthAdjust="spacingAndGlyphs" stroke="#000" stroke-width="0.25">KTM</text>
<text x="650.7" y="520.0" font-size="10" fill="#000" font-family='"Liberation Sans",sans-serif' textLength="18.6" lengthAdjust="spacingAndGlyphs" stroke="#000" stroke-width="0.25">LSA</text>
<text x="598.7" y="533.3" font-size="10" fill="#000" font-family='"Liberation Sans",sans-serif' textLength="19.6" lengthAdjust="spacingAndGlyphs" stroke="#000" stroke-width="0.25">KRC</text>
<text x="643.9" y="539.5" font-size="10" fill="#000" font-family='"Liberation Sans",sans-serif' textLength="18.9" lengthAdjust="spacingAndGlyphs" stroke="#000" stroke-width="0.25">KOL</text>
<text x="683.7" y="543.0" font-size="10" fill="#000" font-family='"Liberation Sans",sans-serif' textLength="19.6" lengthAdjust="spacingAndGlyphs" stroke="#000" stroke-width="0.25">HNO</text>
<text x="610.7" y="549.0" font-size="10" fill="#000" font-family='"Liberation Sans",sans-serif' textLength="20.6" lengthAdjust="spacingAndGlyphs" font-weight="bold" stroke="#000" stroke-width="0.25">MUM</text>
<text x="632.7" y="553.0" font-size="10" fill="#000" font-family='"Liberation Sans",sans-serif' textLength="19.6" lengthAdjust="spacingAndGlyphs" stroke="#000" stroke-width="0.25">VZG</text>
<text x="662.7" y="554.4" font-size="10" fill="#000" font-family='"Liberation Sans",sans-serif' textLength="19.6" lengthAdjust="spacingAndGlyphs" stroke="#000" stroke-width="0.25">RNG</text>
<text x="671.7" y="563.3" font-size="10" fill="#000" font-family='"Liberation Sans",sans-serif' textLength="19.6" lengthAdjust="spacingAndGlyphs" stroke="#000" stroke-width="0.25">BNK</text>
<text x="681.7" y="569.0" font-size="10" fill="#000" font-family='"Liberation Sans",sans-serif' textLength="19.6" lengthAdjust="spacingAndGlyphs" stroke="#000" stroke-width="0.25">PHN</text>
<text x="611.7" y="569.0" font-size="10" fill="#000" font-family='"Liberation Sans",sans-serif' textLength="18.6" lengthAdjust="spacingAndGlyphs" stroke="#000" stroke-width="0.25">DBT</text>
<text x="625.3" y="583.3" font-size="10" fill="#000" font-family='"Liberation Sans",sans-serif' textLength="19.0" lengthAdjust="spacingAndGlyphs" stroke="#000" stroke-width="0.25">CLM</text>
<text x="611.7" y="592.2" font-size="10" fill="#000" font-family='"Liberation Sans",sans-serif' textLength="19.6" lengthAdjust="spacingAndGlyphs" stroke="#000" stroke-width="0.25">MLD</text>
<text x="717.5" y="561.0" font-size="10" fill="#000" font-family='"Liberation Sans",sans-serif' textLength="19.5" lengthAdjust="spacingAndGlyphs" stroke="#000" stroke-width="0.25">MNL</text>
<text x="769.7" y="564.0" font-size="10" fill="#000" font-family='"Liberation Sans",sans-serif' textLength="20.6" lengthAdjust="spacingAndGlyphs" stroke="#000" stroke-width="0.25">GUM</text>
<text x="685.3" y="617.0" font-size="10" fill="#000" font-family='"Liberation Sans",sans-serif' textLength="17.0" lengthAdjust="spacingAndGlyphs" stroke="#000" stroke-width="0.25">JKT</text>
<text x="738.6" y="634.6" font-size="10" fill="#000" font-family='"Liberation Sans",sans-serif' textLength="20.7" lengthAdjust="spacingAndGlyphs" stroke="#000" stroke-width="0.25">DWN</text>
<text x="424.7" y="577.6" font-size="10" fill="#000" font-family='"Liberation Sans",sans-serif' textLength="17.6" lengthAdjust="spacingAndGlyphs" stroke="#000" stroke-width="0.25">SRL</text>
<text x="531.7" y="576.4" font-size="10" fill="#000" font-family='"Liberation Sans",sans-serif' textLength="17.6" lengthAdjust="spacingAndGlyphs" stroke="#000" stroke-width="0.25">ADB</text>
<text x="550.7" y="595.0" font-size="10" fill="#000" font-family='"Liberation Sans",sans-serif' textLength="19.6" lengthAdjust="spacingAndGlyphs" stroke="#000" stroke-width="0.25">MGD</text>
<text x="531.7" y="604.4" font-size="10" fill="#000" font-family='"Liberation Sans",sans-serif' textLength="19.6" lengthAdjust="spacingAndGlyphs" font-weight="bold" stroke="#000" stroke-width="0.25">NRB</text>
<text x="536.7" y="619.0" font-size="10" fill="#000" font-family='"Liberation Sans",sans-serif' textLength="19.6" lengthAdjust="spacingAndGlyphs" font-weight="bold" stroke="#000" stroke-width="0.25">DRS</text>
<text x="558.7" y="634.0" font-size="10" fill="#000" font-family='"Liberation Sans",sans-serif' textLength="19.6" lengthAdjust="spacingAndGlyphs" stroke="#000" stroke-width="0.25">ANN</text>
<text x="512.7" y="642.4" font-size="10" fill="#000" font-family='"Liberation Sans",sans-serif' textLength="18.6" lengthAdjust="spacingAndGlyphs" stroke="#000" stroke-width="0.25">LUS</text>
<text x="518.7" y="649.6" font-size="10" fill="#000" font-family='"Liberation Sans",sans-serif' textLength="19.6" lengthAdjust="spacingAndGlyphs" stroke="#000" stroke-width="0.25">HRR</text>
<text x="554.7" y="652.0" font-size="10" fill="#000" font-family='"Liberation Sans",sans-serif' textLength="17.6" lengthAdjust="spacingAndGlyphs" stroke="#000" stroke-width="0.25">ATN</text>
<text x="489.7" y="678.0" font-size="10" fill="#000" font-family='"Liberation Sans",sans-serif' textLength="18.6" lengthAdjust="spacingAndGlyphs" stroke="#000" stroke-width="0.25">LSK</text>
<text x="490.7" y="693.0" font-size="10" fill="#000" font-family='"Liberation Sans",sans-serif' textLength="18.6" lengthAdjust="spacingAndGlyphs" stroke="#000" stroke-width="0.25">CPT</text>
<text x="705.7" y="687.0" font-size="10" fill="#000" font-family='"Liberation Sans",sans-serif' textLength="18.6" lengthAdjust="spacingAndGlyphs" stroke="#000" stroke-width="0.25">PTH</text>
<text x="784.1" y="692.7" font-size="10" fill="#000" font-family='"Liberation Sans",sans-serif' textLength="18.6" lengthAdjust="spacingAndGlyphs" stroke="#000" stroke-width="0.25">SYN</text>
<text x="779.7" y="696.5" font-size="10" fill="#000" font-family='"Liberation Sans",sans-serif' textLength="19.6" lengthAdjust="spacingAndGlyphs" stroke="#000" stroke-width="0.25">CNB</text>
<text x="836.1" y="713.0" font-size="10" fill="#000" font-family='"Liberation Sans",sans-serif' textLength="17.6" lengthAdjust="spacingAndGlyphs" stroke="#000" stroke-width="0.25">WLT</text>
<text x="318.8" y="744.0" font-size="10" fill="#111" font-family='"Liberation Sans",sans-serif' textLength="40.0" lengthAdjust="spacingAndGlyphs">Falkland</text>
<rect x="52.3" y="353.9" width="795.4000000000001" height="491.5" fill="none" stroke="#000" stroke-width="2"/>
<path stroke="#000" stroke-width="1.3" fill="none" d="M48.3 354.4H52.8M48.3 436.1H52.8M48.3 517.9H52.8M48.3 599.6H52.8M48.3 681.4H52.8M48.3 763.1H52.8M48.3 844.9H52.8M52.8 844.9V850.4M185.2 844.9V850.4M317.6 844.9V850.4M450.0 844.9V850.4M582.4 844.9V850.4M714.8 844.9V850.4M847.2 844.9V850.4"/>
<text x="14.65" y="361.10" font-size="18.46" fill="#000" textLength="29.25" lengthAdjust="spacingAndGlyphs" font-family="'Liberation Sans',sans-serif" style="white-space:pre" stroke="#fff" stroke-width="0.35">90N</text>
<text x="14.59" y="442.85" font-size="18.46" fill="#000" textLength="29.31" lengthAdjust="spacingAndGlyphs" font-family="'Liberation Sans',sans-serif" style="white-space:pre" stroke="#fff" stroke-width="0.35">60N</text>
<text x="14.80" y="524.60" font-size="18.46" fill="#000" textLength="29.10" lengthAdjust="spacingAndGlyphs" font-family="'Liberation Sans',sans-serif" style="white-space:pre" stroke="#fff" stroke-width="0.35">30N</text>
<text x="24.54" y="606.35" font-size="18.46" fill="#000" textLength="18.68" lengthAdjust="spacingAndGlyphs" font-family="'Liberation Sans',sans-serif" style="white-space:pre" stroke="#fff" stroke-width="0.35">EQ</text>
<text x="14.79" y="688.10" font-size="18.46" fill="#000" textLength="28.55" lengthAdjust="spacingAndGlyphs" font-family="'Liberation Sans',sans-serif" style="white-space:pre" stroke="#fff" stroke-width="0.35">30S</text>
<text x="14.58" y="769.85" font-size="18.46" fill="#000" textLength="28.76" lengthAdjust="spacingAndGlyphs" font-family="'Liberation Sans',sans-serif" style="white-space:pre" stroke="#fff" stroke-width="0.35">60S</text>
<text x="14.64" y="851.60" font-size="18.46" fill="#000" textLength="28.70" lengthAdjust="spacingAndGlyphs" font-family="'Liberation Sans',sans-serif" style="white-space:pre" stroke="#fff" stroke-width="0.35">90S</text>
<text x="39.20" y="866.00" font-size="17.44" fill="#000" textLength="27.39" lengthAdjust="spacingAndGlyphs" font-family="'Liberation Sans',sans-serif" style="white-space:pre" stroke="#fff" stroke-width="0.35">180</text>
<text x="167.05" y="866.00" font-size="17.44" fill="#000" textLength="36.10" lengthAdjust="spacingAndGlyphs" font-family="'Liberation Sans',sans-serif" style="white-space:pre" stroke="#fff" stroke-width="0.35">120W</text>
<text x="303.29" y="866.00" font-size="17.44" fill="#000" textLength="28.76" lengthAdjust="spacingAndGlyphs" font-family="'Liberation Sans',sans-serif" style="white-space:pre" stroke="#fff" stroke-width="0.35">60W</text>
<text x="445.75" y="866.00" font-size="17.44" fill="#000" textLength="9.31" lengthAdjust="spacingAndGlyphs" font-family="'Liberation Sans',sans-serif" style="white-space:pre" stroke="#fff" stroke-width="0.35">0</text>
<text x="569.55" y="866.00" font-size="17.44" fill="#000" textLength="26.39" lengthAdjust="spacingAndGlyphs" font-family="'Liberation Sans',sans-serif" style="white-space:pre" stroke="#fff" stroke-width="0.35">60E</text>
<text x="697.03" y="866.00" font-size="17.44" fill="#000" textLength="35.83" lengthAdjust="spacingAndGlyphs" font-family="'Liberation Sans',sans-serif" style="white-space:pre" stroke="#fff" stroke-width="0.35">120E</text>
<text x="833.60" y="866.00" font-size="17.44" fill="#000" textLength="27.39" lengthAdjust="spacingAndGlyphs" font-family="'Liberation Sans',sans-serif" style="white-space:pre" stroke="#fff" stroke-width="0.35">180</text>
<rect x="32.2" y="873" width="83.6" height="21.7" fill="#2d4bff"/>
<circle cx="42.2" cy="883.7" r="8.1" fill="none" stroke="#fff" stroke-width="2.4"/>
<text x="38.21" y="888.10" font-size="13.52" fill="#c8d2ff" textLength="8.32" lengthAdjust="spacingAndGlyphs" font-family="'Liberation Sans',sans-serif" style="white-space:pre" stroke="#2d4bff" stroke-width="0.5">C</text>
<text transform="scale(0.8500,1)" x="67.78 79.37 87.97 96.71 106.48 114.58 120.20" y="888.10" font-size="12.79" fill="#d7dcff" font-family="'Liberation Sans',sans-serif" style="white-space:pre" stroke="#2d4bff" stroke-width="0.45">WEACLIM</text>
<text transform="scale(1.0200,1)" x="267.74 273.34 290.19 294.87 307.25 312.19 325.52 337.72 337.72 352.33 367.25 382.76 398.37 414.30 420.56 433.23 436.27 451.29 469.35 484.79 491.93 508.31 521.72 535.37 548.21 563.37 578.53 592.92 610.17 624.49 639.49 653.43" y="891.70" font-size="21.95" fill="#3a52f2" font-family="'Liberation Sans',sans-serif" style="white-space:pre" stroke="#fff" stroke-width="0.6">INITIAL  CONDITIONS:12Z02DEC2025</text>
<path d="M115.7 916L155.3 904.3V927.7Z" fill="#4000a0" stroke="#000" stroke-width="1.3" stroke-linejoin="round"/><rect x="155.3" y="904.3" width="40" height="23.4" fill="#0000c8" stroke="#000" stroke-width="1.2"/><rect x="195.3" y="904.3" width="40" height="23.4" fill="#0032ff" stroke="#000" stroke-width="1.2"/><rect x="235.3" y="904.3" width="40" height="23.4" fill="#0070ff" stroke="#000" stroke-width="1.2"/><rect x="275.3" y="904.3" width="40" height="23.4" fill="#1e9bff" stroke="#000" stroke-width="1.2"/><rect x="315.3" y="904.3" width="40" height="23.4" fill="#50d2ff" stroke="#000" stroke-width="1.2"/><rect x="355.3" y="904.3" width="40" height="23.4" fill="#8cf0ff" stroke="#000" stroke-width="1.2"/><rect x="395.3" y="904.3" width="40" height="23.4" fill="#ffffff" stroke="#000" stroke-width="1.2"/><rect x="435.3" y="904.3" width="40" height="23.4" fill="#fff5a0" stroke="#000" stroke-width="1.2"/><rect x="475.3" y="904.3" width="40" height="23.4" fill="#ffe070" stroke="#000" stroke-width="1.2"/><rect x="515.3" y="904.3" width="40" height="23.4" fill="#ffbe3c" stroke="#000" stroke-width="1.2"/><rect x="555.3" y="904.3" width="40" height="23.4" fill="#ffa000" stroke="#000" stroke-width="1.2"/><rect x="595.3" y="904.3" width="40" height="23.4" fill="#ff6000" stroke="#000" stroke-width="1.2"/><rect x="635.3" y="904.3" width="40" height="23.4" fill="#ff3200" stroke="#000" stroke-width="1.2"/><rect x="675.3" y="904.3" width="40" height="23.4" fill="#e11400" stroke="#000" stroke-width="1.2"/><rect x="715.3" y="904.3" width="40" height="23.4" fill="#c00000" stroke="#000" stroke-width="1.2"/><rect x="755.3" y="904.3" width="40" height="23.4" fill="#a50000" stroke="#000" stroke-width="1.2"/><path d="M795.3 904.3L837 916L795.3 927.7Z" fill="#000" stroke="#000" stroke-width="1.3" stroke-linejoin="round"/>
<text x="136.23" y="947.20" font-size="20.64" fill="#000" textLength="40.37" lengthAdjust="spacingAndGlyphs" font-family="'Liberation Sans',sans-serif" style="white-space:pre">−35</text>
<text x="176.19" y="947.20" font-size="20.64" fill="#000" textLength="40.37" lengthAdjust="spacingAndGlyphs" font-family="'Liberation Sans',sans-serif" style="white-space:pre">−30</text>
<text x="216.23" y="947.20" font-size="20.64" fill="#000" textLength="40.37" lengthAdjust="spacingAndGlyphs" font-family="'Liberation Sans',sans-serif" style="white-space:pre">−25</text>
<text x="256.19" y="947.20" font-size="20.64" fill="#000" textLength="40.37" lengthAdjust="spacingAndGlyphs" font-family="'Liberation Sans',sans-serif" style="white-space:pre">−20</text>
<text x="296.23" y="947.20" font-size="20.64" fill="#000" textLength="40.37" lengthAdjust="spacingAndGlyphs" font-family="'Liberation Sans',sans-serif" style="white-space:pre">−15</text>
<text x="336.19" y="947.20" font-size="20.64" fill="#000" textLength="40.37" lengthAdjust="spacingAndGlyphs" font-family="'Liberation Sans',sans-serif" style="white-space:pre">−10</text>
<text x="382.84" y="947.20" font-size="20.64" fill="#000" textLength="27.14" lengthAdjust="spacingAndGlyphs" font-family="'Liberation Sans',sans-serif" style="white-space:pre">−5</text>
<text x="429.88" y="947.20" font-size="20.64" fill="#000" textLength="13.24" lengthAdjust="spacingAndGlyphs" font-family="'Liberation Sans',sans-serif" style="white-space:pre">0</text>
<text x="469.90" y="947.20" font-size="20.64" fill="#000" textLength="13.24" lengthAdjust="spacingAndGlyphs" font-family="'Liberation Sans',sans-serif" style="white-space:pre">5</text>
<text x="502.82" y="947.20" font-size="20.64" fill="#000" textLength="26.47" lengthAdjust="spacingAndGlyphs" font-family="'Liberation Sans',sans-serif" style="white-space:pre">10</text>
<text x="542.86" y="947.20" font-size="20.64" fill="#000" textLength="26.47" lengthAdjust="spacingAndGlyphs" font-family="'Liberation Sans',sans-serif" style="white-space:pre">15</text>
<text x="583.13" y="947.20" font-size="20.64" fill="#000" textLength="26.47" lengthAdjust="spacingAndGlyphs" font-family="'Liberation Sans',sans-serif" style="white-space:pre">20</text>
<text x="623.16" y="947.20" font-size="20.64" fill="#000" textLength="26.47" lengthAdjust="spacingAndGlyphs" font-family="'Liberation Sans',sans-serif" style="white-space:pre">25</text>
<text x="663.27" y="947.20" font-size="20.64" fill="#000" textLength="26.47" lengthAdjust="spacingAndGlyphs" font-family="'Liberation Sans',sans-serif" style="white-space:pre">30</text>
<text x="703.31" y="947.20" font-size="20.64" fill="#000" textLength="26.47" lengthAdjust="spacingAndGlyphs" font-family="'Liberation Sans',sans-serif" style="white-space:pre">35</text>
<text x="743.45" y="947.20" font-size="20.64" fill="#000" textLength="26.47" lengthAdjust="spacingAndGlyphs" font-family="'Liberation Sans',sans-serif" style="white-space:pre">40</text>
<text x="783.49" y="947.20" font-size="20.64" fill="#000" textLength="26.47" lengthAdjust="spacingAndGlyphs" font-family="'Liberation Sans',sans-serif" style="white-space:pre">45</text>
</svg>
</body></html>
